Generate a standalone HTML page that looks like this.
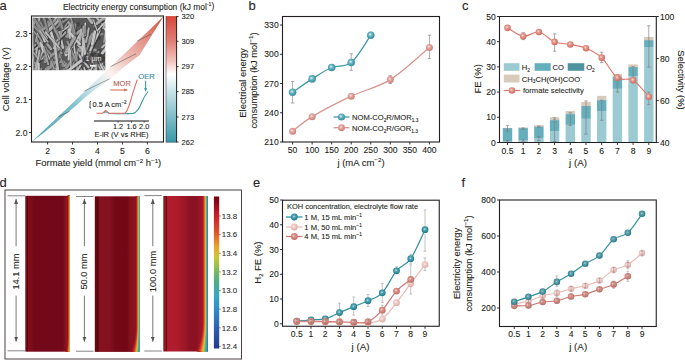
<!DOCTYPE html>
<html><head><meta charset="utf-8"><style>
html,body{margin:0;padding:0;background:#fff;width:685px;height:360px;overflow:hidden}
svg{display:block;font-family:"Liberation Sans", sans-serif}
text{stroke:#231f20;stroke-width:0.1px}
</style></head><body>
<svg width="685" height="360" viewBox="0 0 685 360">
<rect width="685" height="360" fill="#fff"/>

<defs>
 <radialGradient id="gT" cx="0.45" cy="0.42" r="0.6">
  <stop offset="0" stop-color="#d5e7ea"/><stop offset="0.3" stop-color="#55a6b3"/><stop offset="0.75" stop-color="#2b8797"/><stop offset="1" stop-color="#257888"/>
 </radialGradient>
 <radialGradient id="gTb" cx="0.42" cy="0.4" r="0.62">
  <stop offset="0" stop-color="#eef6f7"/><stop offset="0.35" stop-color="#6db7c3"/><stop offset="0.8" stop-color="#3a97a6"/><stop offset="1" stop-color="#5a8e96"/>
 </radialGradient>
 <radialGradient id="gP" cx="0.42" cy="0.4" r="0.6">
  <stop offset="0" stop-color="#f4e6e4"/><stop offset="0.35" stop-color="#e3aaa4"/><stop offset="0.8" stop-color="#d58c85"/><stop offset="1" stop-color="#cb7d76"/>
 </radialGradient>
 <radialGradient id="gPL" cx="0.42" cy="0.4" r="0.6">
  <stop offset="0" stop-color="#faf0ef"/><stop offset="0.35" stop-color="#f0cdc9"/><stop offset="0.8" stop-color="#e8b7b1"/><stop offset="1" stop-color="#e0a8a2"/>
 </radialGradient>
 <radialGradient id="gPD" cx="0.42" cy="0.4" r="0.6">
  <stop offset="0" stop-color="#f1dcda"/><stop offset="0.35" stop-color="#d99189"/><stop offset="0.8" stop-color="#cc776f"/><stop offset="1" stop-color="#c06b63"/>
 </radialGradient>
 <radialGradient id="gS" cx="0.42" cy="0.4" r="0.6">
  <stop offset="0" stop-color="#f3e3e0"/><stop offset="0.35" stop-color="#e39a90"/><stop offset="0.8" stop-color="#d7776b"/><stop offset="1" stop-color="#cf6a5e"/>
 </radialGradient>
 <linearGradient id="cbA" x1="0" y1="0" x2="0" y2="1">
  <stop offset="0" stop-color="#d8473a"/><stop offset="0.2" stop-color="#e27f75"/><stop offset="0.36" stop-color="#f2c6c0"/>
  <stop offset="0.46" stop-color="#ffffff"/><stop offset="0.56" stop-color="#d6ebee"/><stop offset="0.76" stop-color="#8cc5ce"/><stop offset="1" stop-color="#3896a7"/>
 </linearGradient>
 <linearGradient id="ribbon" gradientUnits="userSpaceOnUse" x1="31.5" y1="142" x2="163.5" y2="16.5">
  <stop offset="0" stop-color="#4aa2b1"/><stop offset="0.3" stop-color="#80c2cc"/><stop offset="0.47" stop-color="#d2e9ed"/>
  <stop offset="0.57" stop-color="#fbf4f2"/><stop offset="0.69" stop-color="#efc2bb"/><stop offset="0.86" stop-color="#e08a7e"/><stop offset="1" stop-color="#d4493b"/>
 </linearGradient>
 <linearGradient id="cbD" x1="0" y1="0" x2="0" y2="1">
  <stop offset="0" stop-color="#6e0012"/><stop offset="0.12" stop-color="#c41e2a"/><stop offset="0.24" stop-color="#e0562a"/>
  <stop offset="0.33" stop-color="#e9a52c"/><stop offset="0.4" stop-color="#c8c83c"/><stop offset="0.48" stop-color="#86bc58"/>
  <stop offset="0.56" stop-color="#4eac88"/><stop offset="0.66" stop-color="#36a6c6"/><stop offset="0.76" stop-color="#2f86cc"/>
  <stop offset="0.88" stop-color="#2a5cb0"/><stop offset="1" stop-color="#233a8c"/>
 </linearGradient>
 <linearGradient id="edge1" x1="0" y1="0" x2="1" y2="0">
  <stop offset="0" stop-color="#8a1020" stop-opacity="0"/><stop offset="0.35" stop-color="#a81822"/><stop offset="0.6" stop-color="#d83a22"/><stop offset="0.75" stop-color="#e88a28"/><stop offset="0.87" stop-color="#c8c43c"/><stop offset="1" stop-color="#6aa860"/>
 </linearGradient>
 <linearGradient id="edge2" x1="0" y1="0" x2="1" y2="0">
  <stop offset="0" stop-color="#8a1020" stop-opacity="0"/><stop offset="0.3" stop-color="#a01a24"/><stop offset="0.5" stop-color="#d8402a"/><stop offset="0.64" stop-color="#eaa030"/>
  <stop offset="0.74" stop-color="#c8c83c"/><stop offset="0.83" stop-color="#6ab868"/><stop offset="0.92" stop-color="#38a8b8"/><stop offset="1" stop-color="#3284c4"/>
 </linearGradient>
 <linearGradient id="edge3" x1="0" y1="0" x2="1" y2="0">
  <stop offset="0" stop-color="#a01a24" stop-opacity="0"/><stop offset="0.2" stop-color="#b81e28"/><stop offset="0.4" stop-color="#e0582a"/><stop offset="0.52" stop-color="#eaa030"/>
  <stop offset="0.63" stop-color="#cfc83c"/><stop offset="0.74" stop-color="#72b860"/><stop offset="0.84" stop-color="#3aaab0"/><stop offset="0.93" stop-color="#2f8ccc"/><stop offset="1" stop-color="#2a58a8"/>
 </linearGradient>
<linearGradient id="hm1" gradientUnits="userSpaceOnUse" x1="25.3" y1="0" x2="69.8" y2="0"><stop offset="0.0000" stop-color="#7a0c18"/><stop offset="0.0360" stop-color="#7a0c18"/><stop offset="0.0427" stop-color="#5a0610"/><stop offset="0.0607" stop-color="#5a0610"/><stop offset="0.0697" stop-color="#820e1a"/><stop offset="0.1506" stop-color="#7c0c18"/><stop offset="0.1955" stop-color="#72081a"/><stop offset="0.8472" stop-color="#72081a"/><stop offset="0.8921" stop-color="#861020"/><stop offset="0.9371" stop-color="#9a1622"/><stop offset="1.0000" stop-color="#a01822"/></linearGradient>
<linearGradient id="hm2" gradientUnits="userSpaceOnUse" x1="94.8" y1="0" x2="139.6" y2="0"><stop offset="0.0000" stop-color="#6a0812"/><stop offset="0.0536" stop-color="#6a0812"/><stop offset="0.0625" stop-color="#560610"/><stop offset="0.0781" stop-color="#560610"/><stop offset="0.0893" stop-color="#861220"/><stop offset="0.3393" stop-color="#84111f"/><stop offset="0.4509" stop-color="#740916"/><stop offset="0.7188" stop-color="#720815"/><stop offset="0.7969" stop-color="#86121f"/><stop offset="0.8527" stop-color="#86121f"/><stop offset="1.0000" stop-color="#9a1a24"/></linearGradient>
<linearGradient id="hm3" gradientUnits="userSpaceOnUse" x1="163.3" y1="0" x2="207.8" y2="0"><stop offset="0.0000" stop-color="#5a2a30"/><stop offset="0.0225" stop-color="#7a1420"/><stop offset="0.0337" stop-color="#a01828"/><stop offset="0.0562" stop-color="#a01828"/><stop offset="0.0652" stop-color="#5a0a14"/><stop offset="0.0809" stop-color="#5a0a14"/><stop offset="0.0921" stop-color="#b21c2c"/><stop offset="0.2854" stop-color="#b01c2c"/><stop offset="0.5101" stop-color="#981626"/><stop offset="0.6000" stop-color="#8a1222"/><stop offset="0.7573" stop-color="#8c1222"/><stop offset="0.8247" stop-color="#9a1626"/><stop offset="1.0000" stop-color="#b01e2a"/></linearGradient>
 <marker id="ah" viewBox="0 0 6 6" refX="6" refY="3" markerWidth="5" markerHeight="5" orient="auto-start-reverse" markerUnits="userSpaceOnUse">
  <path d="M0,0.6 L6,3 L0,5.4 Z" fill="#555"/>
 </marker>
 <marker id="ahR" viewBox="0 0 6 6" refX="5" refY="3" markerWidth="4" markerHeight="4" orient="auto" markerUnits="userSpaceOnUse">
  <path d="M0,0.6 L6,3 L0,5.4 Z" fill="#dd6e5e"/>
 </marker>
 <marker id="ahT" viewBox="0 0 6 6" refX="5" refY="3" markerWidth="4" markerHeight="4" orient="auto" markerUnits="userSpaceOnUse">
  <path d="M0,0.6 L6,3 L0,5.4 Z" fill="#3a9aaa"/>
 </marker>
</defs>

<text x="-0.5" y="9.9" font-size="13" text-anchor="start" fill="#2b2324" stroke="#2b2324">a</text>
<text x="248.5" y="10" font-size="13" text-anchor="start" fill="#2b2324" stroke="#2b2324">b</text>
<text x="462" y="9.8" font-size="13" text-anchor="start" fill="#2b2324" stroke="#2b2324">c</text>
<text x="-0.5" y="186.6" font-size="13" text-anchor="start" fill="#2b2324" stroke="#2b2324">d</text>
<text x="253" y="186.8" font-size="13" text-anchor="start" fill="#2b2324" stroke="#2b2324">e</text>
<text x="461.5" y="186.8" font-size="13" text-anchor="start" fill="#2b2324" stroke="#2b2324">f</text>
<svg x="32.6" y="17.8" width="72.7" height="52.5" overflow="hidden">
<defs><filter id="semb" x="-10%" y="-10%" width="120%" height="120%"><feGaussianBlur stdDeviation="0.65"/></filter></defs>
<g filter="url(#semb)">
<rect x="-2" y="-2" width="76.7" height="56.5" fill="#585858"/>
<ellipse cx="32.74" cy="30.03" rx="4.27" ry="2.16" fill="#8a8a8a" opacity="0.8"/>
<ellipse cx="64.55" cy="8.2" rx="3.91" ry="2.19" fill="#8a8a8a" opacity="0.8"/>
<ellipse cx="59.65" cy="2.55" rx="2.41" ry="1.23" fill="#a5a5a5" opacity="0.8"/>
<ellipse cx="47.12" cy="32.13" rx="2.69" ry="2.13" fill="#a5a5a5" opacity="0.8"/>
<ellipse cx="45.63" cy="6.29" rx="1.55" ry="2.32" fill="#3c3c3c" opacity="0.8"/>
<ellipse cx="-0.18" cy="48.89" rx="3.3" ry="2.95" fill="#555555" opacity="0.8"/>
<ellipse cx="31.8" cy="46.7" rx="3.06" ry="2.6" fill="#9a9a9a" opacity="0.8"/>
<ellipse cx="-2.64" cy="2.01" rx="3.46" ry="2.02" fill="#8a8a8a" opacity="0.8"/>
<ellipse cx="75.66" cy="46.57" rx="3.62" ry="1.79" fill="#4a4a4a" opacity="0.8"/>
<ellipse cx="37.52" cy="-1.24" rx="3.19" ry="1.27" fill="#3c3c3c" opacity="0.8"/>
<ellipse cx="63.88" cy="19.8" rx="4.37" ry="3.12" fill="#3c3c3c" opacity="0.8"/>
<ellipse cx="13.87" cy="51.7" rx="1.66" ry="1.94" fill="#a5a5a5" opacity="0.8"/>
<ellipse cx="28.4" cy="1.31" rx="3.39" ry="2.95" fill="#555555" opacity="0.8"/>
<ellipse cx="23.61" cy="15.36" rx="1.55" ry="2.03" fill="#3c3c3c" opacity="0.8"/>
<ellipse cx="7.63" cy="38.71" rx="1.53" ry="2.16" fill="#9a9a9a" opacity="0.8"/>
<ellipse cx="11.04" cy="30" rx="2.84" ry="1.48" fill="#a5a5a5" opacity="0.8"/>
<ellipse cx="57.79" cy="21.73" rx="2.65" ry="1.99" fill="#4a4a4a" opacity="0.8"/>
<ellipse cx="-2.96" cy="48" rx="4.42" ry="2.48" fill="#3c3c3c" opacity="0.8"/>
<ellipse cx="13.65" cy="20.26" rx="4.06" ry="2.6" fill="#3c3c3c" opacity="0.8"/>
<ellipse cx="0.33" cy="5.64" rx="2.82" ry="1.02" fill="#8a8a8a" opacity="0.8"/>
<ellipse cx="22.99" cy="14.48" rx="1.72" ry="1.23" fill="#8a8a8a" opacity="0.8"/>
<ellipse cx="47.29" cy="-2.08" rx="2.61" ry="2.56" fill="#4a4a4a" opacity="0.8"/>
<ellipse cx="72.77" cy="25.54" rx="3.22" ry="3.17" fill="#4a4a4a" opacity="0.8"/>
<ellipse cx="46.55" cy="15.34" rx="2.19" ry="2.53" fill="#a5a5a5" opacity="0.8"/>
<ellipse cx="11.99" cy="40.63" rx="4.32" ry="1.49" fill="#9a9a9a" opacity="0.8"/>
<ellipse cx="66.69" cy="32.61" rx="2.76" ry="1.26" fill="#3c3c3c" opacity="0.8"/>
<ellipse cx="37.48" cy="12.06" rx="3.72" ry="1.98" fill="#9a9a9a" opacity="0.8"/>
<ellipse cx="62.07" cy="32.19" rx="2.38" ry="1.44" fill="#a5a5a5" opacity="0.8"/>
<ellipse cx="74.2" cy="4.46" rx="2.94" ry="2.63" fill="#8a8a8a" opacity="0.8"/>
<ellipse cx="45.53" cy="13.53" rx="4.25" ry="1.51" fill="#3c3c3c" opacity="0.8"/>
<ellipse cx="2.46" cy="21.27" rx="2.25" ry="1.12" fill="#555555" opacity="0.8"/>
<ellipse cx="26.13" cy="30.76" rx="1.89" ry="1.91" fill="#9a9a9a" opacity="0.8"/>
<ellipse cx="74.46" cy="35.76" rx="3.57" ry="2.46" fill="#4a4a4a" opacity="0.8"/>
<ellipse cx="43.6" cy="51.49" rx="2.92" ry="1.89" fill="#555555" opacity="0.8"/>
<ellipse cx="73.06" cy="-1.75" rx="3.41" ry="2.21" fill="#a5a5a5" opacity="0.8"/>
<ellipse cx="21.57" cy="5.06" rx="1.72" ry="2.13" fill="#555555" opacity="0.8"/>
<ellipse cx="55.22" cy="50.11" rx="3.71" ry="2.76" fill="#555555" opacity="0.8"/>
<ellipse cx="24.79" cy="37.42" rx="4.2" ry="3.18" fill="#9a9a9a" opacity="0.8"/>
<ellipse cx="71.59" cy="-1.21" rx="3" ry="1.04" fill="#a5a5a5" opacity="0.8"/>
<ellipse cx="27.2" cy="31.38" rx="3.33" ry="1.2" fill="#a5a5a5" opacity="0.8"/>
<ellipse cx="6.13" cy="12.17" rx="2.75" ry="1.83" fill="#a5a5a5" opacity="0.8"/>
<ellipse cx="51.84" cy="24.01" rx="2.89" ry="2.35" fill="#8a8a8a" opacity="0.8"/>
<ellipse cx="56.27" cy="-1.24" rx="3.3" ry="2.2" fill="#4a4a4a" opacity="0.8"/>
<ellipse cx="72.63" cy="3.66" rx="3.84" ry="2.65" fill="#9a9a9a" opacity="0.8"/>
<ellipse cx="17.21" cy="-2.33" rx="2.4" ry="2.7" fill="#4a4a4a" opacity="0.8"/>
<ellipse cx="37.95" cy="41.47" rx="2.53" ry="3.33" fill="#9a9a9a" opacity="0.8"/>
<ellipse cx="67.45" cy="16.29" rx="3.5" ry="1.5" fill="#9a9a9a" opacity="0.8"/>
<ellipse cx="60.49" cy="41.52" rx="2.1" ry="1.54" fill="#4a4a4a" opacity="0.8"/>
<ellipse cx="43.07" cy="15.67" rx="1.91" ry="2.24" fill="#3c3c3c" opacity="0.8"/>
<ellipse cx="53.19" cy="53.05" rx="2.33" ry="1.42" fill="#9a9a9a" opacity="0.8"/>
<ellipse cx="34.24" cy="51.62" rx="3.99" ry="1.96" fill="#8a8a8a" opacity="0.8"/>
<ellipse cx="36.02" cy="15.61" rx="4.02" ry="3.46" fill="#9a9a9a" opacity="0.8"/>
<ellipse cx="22.31" cy="45.89" rx="2.33" ry="2.52" fill="#a5a5a5" opacity="0.8"/>
<ellipse cx="52.98" cy="30.66" rx="2.43" ry="2.98" fill="#3c3c3c" opacity="0.8"/>
<ellipse cx="47.64" cy="20.91" rx="2.07" ry="2.92" fill="#555555" opacity="0.8"/>
<ellipse cx="15.76" cy="5.31" rx="1.64" ry="2.57" fill="#9a9a9a" opacity="0.8"/>
<ellipse cx="5.61" cy="28.59" rx="3.42" ry="1.92" fill="#3c3c3c" opacity="0.8"/>
<ellipse cx="51.07" cy="8.76" rx="2.93" ry="1.45" fill="#3c3c3c" opacity="0.8"/>
<ellipse cx="56.65" cy="28.56" rx="1.61" ry="1.57" fill="#555555" opacity="0.8"/>
<ellipse cx="39.64" cy="52.86" rx="3" ry="3.49" fill="#4a4a4a" opacity="0.8"/>
<ellipse cx="28.09" cy="43.72" rx="4.22" ry="1.22" fill="#a5a5a5" opacity="0.8"/>
<ellipse cx="27.65" cy="23.58" rx="2.09" ry="3.22" fill="#3c3c3c" opacity="0.8"/>
<ellipse cx="26.77" cy="30.56" rx="4.14" ry="2.99" fill="#555555" opacity="0.8"/>
<ellipse cx="33.63" cy="35.43" rx="2.11" ry="2.8" fill="#a5a5a5" opacity="0.8"/>
<ellipse cx="70.01" cy="4.29" rx="2.23" ry="1.98" fill="#3c3c3c" opacity="0.8"/>
<ellipse cx="74.21" cy="28.68" rx="3.87" ry="1.8" fill="#a5a5a5" opacity="0.8"/>
<ellipse cx="64.61" cy="17.56" rx="1.75" ry="2.1" fill="#8a8a8a" opacity="0.8"/>
<ellipse cx="30.29" cy="13.24" rx="4.26" ry="1.55" fill="#3c3c3c" opacity="0.8"/>
<ellipse cx="30.89" cy="-0.93" rx="3.1" ry="2.72" fill="#4a4a4a" opacity="0.8"/>
<ellipse cx="34.17" cy="55.99" rx="4.2" ry="2.3" fill="#a5a5a5" opacity="0.8"/>
<ellipse cx="51.46" cy="52.8" rx="2.98" ry="3.37" fill="#3c3c3c" opacity="0.8"/>
<ellipse cx="56.87" cy="22.93" rx="3.18" ry="3.08" fill="#8a8a8a" opacity="0.8"/>
<ellipse cx="47.47" cy="27.84" rx="4.03" ry="2.4" fill="#555555" opacity="0.8"/>
<ellipse cx="50.03" cy="53.33" rx="4.11" ry="2.52" fill="#555555" opacity="0.8"/>
<ellipse cx="64.21" cy="54.14" rx="3.07" ry="2.43" fill="#4a4a4a" opacity="0.8"/>
<ellipse cx="29.48" cy="3.74" rx="1.51" ry="1.94" fill="#8a8a8a" opacity="0.8"/>
<ellipse cx="73.58" cy="27.45" rx="2.7" ry="3" fill="#8a8a8a" opacity="0.8"/>
<ellipse cx="6.63" cy="2.5" rx="2" ry="3.33" fill="#9a9a9a" opacity="0.8"/>
<ellipse cx="29.69" cy="53.46" rx="4.27" ry="1.67" fill="#9a9a9a" opacity="0.8"/>
<ellipse cx="35.95" cy="17.04" rx="4.2" ry="3.34" fill="#9a9a9a" opacity="0.8"/>
<ellipse cx="38.47" cy="3.41" rx="2.76" ry="1.07" fill="#555555" opacity="0.8"/>
<ellipse cx="7.23" cy="42.98" rx="1.57" ry="1.49" fill="#4a4a4a" opacity="0.8"/>
<ellipse cx="-2.07" cy="13.76" rx="3.67" ry="1.61" fill="#9a9a9a" opacity="0.8"/>
<ellipse cx="5.29" cy="40.12" rx="1.87" ry="2.28" fill="#555555" opacity="0.8"/>
<ellipse cx="53.7" cy="38.38" rx="4.14" ry="1.06" fill="#a5a5a5" opacity="0.8"/>
<ellipse cx="29.66" cy="28.23" rx="1.98" ry="1.51" fill="#a5a5a5" opacity="0.8"/>
<ellipse cx="39.19" cy="9.88" rx="2.15" ry="2.36" fill="#8a8a8a" opacity="0.8"/>
<ellipse cx="64.68" cy="10.73" rx="3.72" ry="3.03" fill="#4a4a4a" opacity="0.8"/>
<ellipse cx="21.95" cy="15.58" rx="4.27" ry="1.55" fill="#4a4a4a" opacity="0.8"/>
<ellipse cx="67.12" cy="4.9" rx="2.22" ry="2.82" fill="#555555" opacity="0.8"/>
<line x1="21.77" y1="31.09" x2="33.58" y2="14.83" stroke="#333333" stroke-width="2.121033327612624" stroke-linecap="round" opacity="0.55"/>
<line x1="21.07" y1="30.39" x2="32.88" y2="14.13" stroke="#c6c6c6" stroke-width="1.521033327612624" stroke-linecap="round"/>
<line x1="45.91" y1="-14.01" x2="59.97" y2="5.72" stroke="#333333" stroke-width="3.349405221478025" stroke-linecap="round" opacity="0.55"/>
<line x1="45.21" y1="-14.71" x2="59.27" y2="5.02" stroke="#b0b0b0" stroke-width="2.749405221478025" stroke-linecap="round"/>
<line x1="46.6" y1="27.94" x2="62.61" y2="43.97" stroke="#333333" stroke-width="3.0845499643153205" stroke-linecap="round" opacity="0.55"/>
<line x1="45.9" y1="27.24" x2="61.91" y2="43.27" stroke="#bcbcbc" stroke-width="2.4845499643153204" stroke-linecap="round"/>
<line x1="3.79" y1="5.82" x2="3.66" y2="-11.55" stroke="#333333" stroke-width="2.034487714643134" stroke-linecap="round" opacity="0.55"/>
<line x1="3.09" y1="5.12" x2="2.96" y2="-12.25" stroke="#a2a2a2" stroke-width="1.434487714643134" stroke-linecap="round"/>
<line x1="0.59" y1="-3.01" x2="8.35" y2="14.83" stroke="#333333" stroke-width="2.7276460297339566" stroke-linecap="round" opacity="0.55"/>
<line x1="-0.11" y1="-3.71" x2="7.65" y2="14.13" stroke="#a2a2a2" stroke-width="2.1276460297339566" stroke-linecap="round"/>
<line x1="70.29" y1="30.29" x2="80.86" y2="19.18" stroke="#333333" stroke-width="2.6244594020196224" stroke-linecap="round" opacity="0.55"/>
<line x1="69.59" y1="29.59" x2="80.16" y2="18.48" stroke="#bcbcbc" stroke-width="2.0244594020196223" stroke-linecap="round"/>
<line x1="11.37" y1="23.81" x2="13.75" y2="14.1" stroke="#333333" stroke-width="2.452729361700427" stroke-linecap="round" opacity="0.55"/>
<line x1="10.67" y1="23.11" x2="13.05" y2="13.4" stroke="#969696" stroke-width="1.852729361700427" stroke-linecap="round"/>
<line x1="54.77" y1="13.41" x2="60.32" y2="28.68" stroke="#333333" stroke-width="1.8246682563268743" stroke-linecap="round" opacity="0.55"/>
<line x1="54.07" y1="12.71" x2="59.62" y2="27.98" stroke="#b0b0b0" stroke-width="1.2246682563268745" stroke-linecap="round"/>
<line x1="59.01" y1="46.41" x2="66.68" y2="34.59" stroke="#333333" stroke-width="2.759368231188629" stroke-linecap="round" opacity="0.55"/>
<line x1="58.31" y1="45.71" x2="65.98" y2="33.89" stroke="#8c8c8c" stroke-width="2.159368231188629" stroke-linecap="round"/>
<line x1="41.44" y1="19.8" x2="47.35" y2="13.93" stroke="#333333" stroke-width="2.9887636635063646" stroke-linecap="round" opacity="0.55"/>
<line x1="40.74" y1="19.1" x2="46.65" y2="13.23" stroke="#a2a2a2" stroke-width="2.3887636635063645" stroke-linecap="round"/>
<line x1="59.87" y1="30.14" x2="68.02" y2="11.99" stroke="#333333" stroke-width="3.0276316813426463" stroke-linecap="round" opacity="0.55"/>
<line x1="59.17" y1="29.44" x2="67.32" y2="11.29" stroke="#a2a2a2" stroke-width="2.427631681342646" stroke-linecap="round"/>
<line x1="25.91" y1="34.72" x2="32.47" y2="48.62" stroke="#333333" stroke-width="1.8169513689046877" stroke-linecap="round" opacity="0.55"/>
<line x1="25.21" y1="34.02" x2="31.77" y2="47.92" stroke="#969696" stroke-width="1.2169513689046878" stroke-linecap="round"/>
<line x1="73.93" y1="41.78" x2="83.87" y2="64.97" stroke="#333333" stroke-width="2.2781861941554022" stroke-linecap="round" opacity="0.55"/>
<line x1="73.23" y1="41.08" x2="83.17" y2="64.27" stroke="#a2a2a2" stroke-width="1.6781861941554022" stroke-linecap="round"/>
<line x1="50.03" y1="44.7" x2="51.53" y2="18.75" stroke="#333333" stroke-width="2.8276244188930835" stroke-linecap="round" opacity="0.55"/>
<line x1="49.33" y1="44" x2="50.83" y2="18.05" stroke="#c6c6c6" stroke-width="2.2276244188930834" stroke-linecap="round"/>
<line x1="4.05" y1="24.4" x2="5.68" y2="16.4" stroke="#333333" stroke-width="2.1792497307852923" stroke-linecap="round" opacity="0.55"/>
<line x1="3.35" y1="23.7" x2="4.98" y2="15.7" stroke="#bcbcbc" stroke-width="1.5792497307852922" stroke-linecap="round"/>
<line x1="27.07" y1="-5.59" x2="30.6" y2="1.55" stroke="#333333" stroke-width="2.201419928976198" stroke-linecap="round" opacity="0.55"/>
<line x1="26.37" y1="-6.29" x2="29.9" y2="0.85" stroke="#969696" stroke-width="1.6014199289761981" stroke-linecap="round"/>
<line x1="34" y1="38.3" x2="48.91" y2="17.12" stroke="#333333" stroke-width="2.820820158056545" stroke-linecap="round" opacity="0.55"/>
<line x1="33.3" y1="37.6" x2="48.21" y2="16.42" stroke="#c6c6c6" stroke-width="2.220820158056545" stroke-linecap="round"/>
<line x1="-8.7" y1="40.87" x2="11.06" y2="26.21" stroke="#333333" stroke-width="2.0558905170667465" stroke-linecap="round" opacity="0.55"/>
<line x1="-9.4" y1="40.17" x2="10.36" y2="25.51" stroke="#bcbcbc" stroke-width="1.4558905170667467" stroke-linecap="round"/>
<line x1="77.52" y1="57.61" x2="76.79" y2="43.03" stroke="#333333" stroke-width="2.5912529995525344" stroke-linecap="round" opacity="0.55"/>
<line x1="76.82" y1="56.91" x2="76.09" y2="42.33" stroke="#969696" stroke-width="1.9912529995525343" stroke-linecap="round"/>
<line x1="35.65" y1="24.8" x2="43.29" y2="42.31" stroke="#333333" stroke-width="2.6970307937797946" stroke-linecap="round" opacity="0.55"/>
<line x1="34.95" y1="24.1" x2="42.59" y2="41.61" stroke="#969696" stroke-width="2.0970307937797945" stroke-linecap="round"/>
<line x1="45.63" y1="36.34" x2="56.58" y2="50.27" stroke="#333333" stroke-width="2.8127881545613698" stroke-linecap="round" opacity="0.55"/>
<line x1="44.93" y1="35.64" x2="55.88" y2="49.57" stroke="#bcbcbc" stroke-width="2.2127881545613697" stroke-linecap="round"/>
<line x1="57.16" y1="23.12" x2="60.53" y2="16.98" stroke="#333333" stroke-width="3.382031115568472" stroke-linecap="round" opacity="0.55"/>
<line x1="56.46" y1="22.42" x2="59.83" y2="16.28" stroke="#969696" stroke-width="2.782031115568472" stroke-linecap="round"/>
<line x1="-5.29" y1="42.46" x2="7.18" y2="64.66" stroke="#333333" stroke-width="2.1899332767180675" stroke-linecap="round" opacity="0.55"/>
<line x1="-5.99" y1="41.76" x2="6.48" y2="63.96" stroke="#8c8c8c" stroke-width="1.5899332767180674" stroke-linecap="round"/>
<line x1="-6.57" y1="55.47" x2="12.71" y2="39.25" stroke="#333333" stroke-width="2.1922943902447614" stroke-linecap="round" opacity="0.55"/>
<line x1="-7.27" y1="54.77" x2="12.01" y2="38.55" stroke="#c6c6c6" stroke-width="1.5922943902447615" stroke-linecap="round"/>
<line x1="3.94" y1="38.75" x2="5.03" y2="31.8" stroke="#333333" stroke-width="2.6449595350590243" stroke-linecap="round" opacity="0.55"/>
<line x1="3.24" y1="38.05" x2="4.33" y2="31.1" stroke="#b0b0b0" stroke-width="2.044959535059024" stroke-linecap="round"/>
<line x1="20.46" y1="-4.09" x2="30.7" y2="11.66" stroke="#333333" stroke-width="2.891210119957111" stroke-linecap="round" opacity="0.55"/>
<line x1="19.76" y1="-4.79" x2="30" y2="10.96" stroke="#969696" stroke-width="2.291210119957111" stroke-linecap="round"/>
<line x1="57.01" y1="38.81" x2="64.64" y2="19.59" stroke="#333333" stroke-width="2.1814576444757443" stroke-linecap="round" opacity="0.55"/>
<line x1="56.31" y1="38.11" x2="63.94" y2="18.89" stroke="#b0b0b0" stroke-width="1.5814576444757442" stroke-linecap="round"/>
<line x1="38.49" y1="20.41" x2="36.41" y2="9.11" stroke="#333333" stroke-width="2.775693734705911" stroke-linecap="round" opacity="0.55"/>
<line x1="37.79" y1="19.71" x2="35.71" y2="8.41" stroke="#c6c6c6" stroke-width="2.175693734705911" stroke-linecap="round"/>
<line x1="43.36" y1="38.01" x2="42.07" y2="28.3" stroke="#333333" stroke-width="2.1983376562851555" stroke-linecap="round" opacity="0.55"/>
<line x1="42.66" y1="37.31" x2="41.37" y2="27.6" stroke="#c6c6c6" stroke-width="1.5983376562851555" stroke-linecap="round"/>
<line x1="70.88" y1="46.36" x2="74.19" y2="57.29" stroke="#333333" stroke-width="2.4803087595332123" stroke-linecap="round" opacity="0.55"/>
<line x1="70.18" y1="45.66" x2="73.49" y2="56.59" stroke="#8c8c8c" stroke-width="1.8803087595332122" stroke-linecap="round"/>
<line x1="-9.48" y1="-0.43" x2="5.35" y2="18.77" stroke="#333333" stroke-width="2.057371563322885" stroke-linecap="round" opacity="0.55"/>
<line x1="-10.18" y1="-1.13" x2="4.65" y2="18.07" stroke="#a2a2a2" stroke-width="1.457371563322885" stroke-linecap="round"/>
<line x1="47.37" y1="25.32" x2="49.32" y2="12.59" stroke="#333333" stroke-width="2.9917229072256384" stroke-linecap="round" opacity="0.55"/>
<line x1="46.67" y1="24.62" x2="48.62" y2="11.89" stroke="#b0b0b0" stroke-width="2.3917229072256383" stroke-linecap="round"/>
<line x1="58.26" y1="33.41" x2="67.52" y2="14.14" stroke="#333333" stroke-width="2.5109418085141217" stroke-linecap="round" opacity="0.55"/>
<line x1="57.56" y1="32.71" x2="66.82" y2="13.44" stroke="#c6c6c6" stroke-width="1.9109418085141219" stroke-linecap="round"/>
<line x1="9.31" y1="36.73" x2="23.96" y2="57.95" stroke="#333333" stroke-width="2.320624974857398" stroke-linecap="round" opacity="0.55"/>
<line x1="8.61" y1="36.03" x2="23.26" y2="57.25" stroke="#8c8c8c" stroke-width="1.7206249748573978" stroke-linecap="round"/>
<line x1="54.21" y1="41.15" x2="64.22" y2="55.65" stroke="#333333" stroke-width="2.539225994052627" stroke-linecap="round" opacity="0.55"/>
<line x1="53.51" y1="40.45" x2="63.52" y2="54.95" stroke="#969696" stroke-width="1.9392259940526269" stroke-linecap="round"/>
<line x1="1.3" y1="9.95" x2="1.45" y2="-9.76" stroke="#333333" stroke-width="2.2781930783211735" stroke-linecap="round" opacity="0.55"/>
<line x1="0.6" y1="9.25" x2="0.75" y2="-10.46" stroke="#b0b0b0" stroke-width="1.6781930783211736" stroke-linecap="round"/>
<line x1="-0.15" y1="14.46" x2="2.48" y2="2.67" stroke="#333333" stroke-width="2.9599954576986884" stroke-linecap="round" opacity="0.55"/>
<line x1="-0.85" y1="13.76" x2="1.78" y2="1.97" stroke="#c6c6c6" stroke-width="2.3599954576986883" stroke-linecap="round"/>
<line x1="19" y1="46.86" x2="26.15" y2="57.17" stroke="#333333" stroke-width="3.2500433339760564" stroke-linecap="round" opacity="0.55"/>
<line x1="18.3" y1="46.16" x2="25.45" y2="56.47" stroke="#969696" stroke-width="2.6500433339760563" stroke-linecap="round"/>
<line x1="50.42" y1="42.94" x2="59.55" y2="20.46" stroke="#333333" stroke-width="2.5007883254314804" stroke-linecap="round" opacity="0.55"/>
<line x1="49.72" y1="42.24" x2="58.85" y2="19.76" stroke="#969696" stroke-width="1.9007883254314806" stroke-linecap="round"/>
<line x1="29.64" y1="16.19" x2="37.67" y2="1.97" stroke="#333333" stroke-width="1.9348593874179625" stroke-linecap="round" opacity="0.55"/>
<line x1="28.94" y1="15.49" x2="36.97" y2="1.27" stroke="#969696" stroke-width="1.3348593874179624" stroke-linecap="round"/>
<line x1="-1.65" y1="48.97" x2="-4.85" y2="28.44" stroke="#333333" stroke-width="2.3891959046969746" stroke-linecap="round" opacity="0.55"/>
<line x1="-2.35" y1="48.27" x2="-5.55" y2="27.74" stroke="#bcbcbc" stroke-width="1.7891959046969748" stroke-linecap="round"/>
<line x1="38.86" y1="59.5" x2="42.43" y2="38.63" stroke="#333333" stroke-width="3.2094371897543974" stroke-linecap="round" opacity="0.55"/>
<line x1="38.16" y1="58.8" x2="41.73" y2="37.93" stroke="#969696" stroke-width="2.6094371897543973" stroke-linecap="round"/>
<line x1="61.69" y1="3.47" x2="65.72" y2="14.69" stroke="#333333" stroke-width="1.8357443648720277" stroke-linecap="round" opacity="0.55"/>
<line x1="60.99" y1="2.77" x2="65.02" y2="13.99" stroke="#bcbcbc" stroke-width="1.2357443648720277" stroke-linecap="round"/>
<line x1="-2.87" y1="32.59" x2="3.15" y2="27.9" stroke="#333333" stroke-width="2.9792958748985" stroke-linecap="round" opacity="0.55"/>
<line x1="-3.57" y1="31.89" x2="2.45" y2="27.2" stroke="#969696" stroke-width="2.3792958748985" stroke-linecap="round"/>
<line x1="-3.86" y1="28.38" x2="7.66" y2="43.46" stroke="#333333" stroke-width="2.192720385935343" stroke-linecap="round" opacity="0.55"/>
<line x1="-4.56" y1="27.68" x2="6.96" y2="42.76" stroke="#a2a2a2" stroke-width="1.592720385935343" stroke-linecap="round"/>
<line x1="33.14" y1="48" x2="39.4" y2="59.4" stroke="#333333" stroke-width="3.0916408415826733" stroke-linecap="round" opacity="0.55"/>
<line x1="32.44" y1="47.3" x2="38.7" y2="58.7" stroke="#969696" stroke-width="2.491640841582673" stroke-linecap="round"/>
<line x1="53.02" y1="36.8" x2="50.69" y2="16.77" stroke="#333333" stroke-width="3.263962948873528" stroke-linecap="round" opacity="0.55"/>
<line x1="52.32" y1="36.1" x2="49.99" y2="16.07" stroke="#bcbcbc" stroke-width="2.663962948873528" stroke-linecap="round"/>
<line x1="57.28" y1="52.23" x2="60.82" y2="65.32" stroke="#333333" stroke-width="1.9428059087830416" stroke-linecap="round" opacity="0.55"/>
<line x1="56.58" y1="51.53" x2="60.12" y2="64.62" stroke="#bcbcbc" stroke-width="1.3428059087830415" stroke-linecap="round"/>
<line x1="77.32" y1="47.27" x2="74.9" y2="25.36" stroke="#333333" stroke-width="2.474577473682903" stroke-linecap="round" opacity="0.55"/>
<line x1="76.62" y1="46.57" x2="74.2" y2="24.66" stroke="#bcbcbc" stroke-width="1.874577473682903" stroke-linecap="round"/>
<line x1="67.01" y1="2.52" x2="78.03" y2="18.82" stroke="#333333" stroke-width="2.3134073281808463" stroke-linecap="round" opacity="0.55"/>
<line x1="66.31" y1="1.82" x2="77.33" y2="18.12" stroke="#bcbcbc" stroke-width="1.7134073281808464" stroke-linecap="round"/>
<line x1="25.97" y1="17.35" x2="35.67" y2="10.01" stroke="#333333" stroke-width="1.9837003386437813" stroke-linecap="round" opacity="0.55"/>
<line x1="25.27" y1="16.65" x2="34.97" y2="9.31" stroke="#c6c6c6" stroke-width="1.3837003386437814" stroke-linecap="round"/>
<line x1="6.4" y1="57.27" x2="9.44" y2="51.7" stroke="#333333" stroke-width="2.569725035539805" stroke-linecap="round" opacity="0.55"/>
<line x1="5.7" y1="56.57" x2="8.74" y2="51" stroke="#b0b0b0" stroke-width="1.9697250355398048" stroke-linecap="round"/>
<line x1="16.41" y1="-0.03" x2="26.12" y2="15.12" stroke="#333333" stroke-width="2.5550599526737456" stroke-linecap="round" opacity="0.55"/>
<line x1="15.71" y1="-0.73" x2="25.42" y2="14.42" stroke="#8c8c8c" stroke-width="1.9550599526737455" stroke-linecap="round"/>
<line x1="10.09" y1="-3.2" x2="17.38" y2="16.65" stroke="#333333" stroke-width="2.298768098673295" stroke-linecap="round" opacity="0.55"/>
<line x1="9.39" y1="-3.9" x2="16.68" y2="15.95" stroke="#8c8c8c" stroke-width="1.698768098673295" stroke-linecap="round"/>
<line x1="70.44" y1="36.01" x2="79.1" y2="24.94" stroke="#333333" stroke-width="3.3291144888648385" stroke-linecap="round" opacity="0.55"/>
<line x1="69.74" y1="35.31" x2="78.4" y2="24.24" stroke="#c6c6c6" stroke-width="2.7291144888648384" stroke-linecap="round"/>
<line x1="40.72" y1="60.37" x2="41.73" y2="53.45" stroke="#333333" stroke-width="3.3160322682177097" stroke-linecap="round" opacity="0.55"/>
<line x1="40.02" y1="59.67" x2="41.03" y2="52.75" stroke="#bcbcbc" stroke-width="2.7160322682177096" stroke-linecap="round"/>
<line x1="76.01" y1="49.53" x2="79.31" y2="43.18" stroke="#333333" stroke-width="3.2788111715032335" stroke-linecap="round" opacity="0.55"/>
<line x1="75.31" y1="48.83" x2="78.61" y2="42.48" stroke="#b0b0b0" stroke-width="2.6788111715032334" stroke-linecap="round"/>
<line x1="68.04" y1="60.69" x2="69.95" y2="46.39" stroke="#333333" stroke-width="3.199725462881212" stroke-linecap="round" opacity="0.55"/>
<line x1="67.34" y1="59.99" x2="69.25" y2="45.69" stroke="#bcbcbc" stroke-width="2.599725462881212" stroke-linecap="round"/>
<line x1="2.67" y1="9.47" x2="13.4" y2="21.77" stroke="#333333" stroke-width="2.8191464870175715" stroke-linecap="round" opacity="0.55"/>
<line x1="1.97" y1="8.77" x2="12.7" y2="21.07" stroke="#8c8c8c" stroke-width="2.2191464870175714" stroke-linecap="round"/>
<line x1="15.49" y1="27.08" x2="19.21" y2="31.82" stroke="#333333" stroke-width="3.1142689098862064" stroke-linecap="round" opacity="0.55"/>
<line x1="14.79" y1="26.38" x2="18.51" y2="31.12" stroke="#a2a2a2" stroke-width="2.5142689098862063" stroke-linecap="round"/>
<line x1="62.22" y1="-3.14" x2="66.94" y2="3.25" stroke="#333333" stroke-width="2.568163379355572" stroke-linecap="round" opacity="0.55"/>
<line x1="61.52" y1="-3.84" x2="66.24" y2="2.55" stroke="#bcbcbc" stroke-width="1.968163379355572" stroke-linecap="round"/>
<line x1="1.75" y1="46.55" x2="1.73" y2="40.17" stroke="#333333" stroke-width="2.100420229637271" stroke-linecap="round" opacity="0.55"/>
<line x1="1.05" y1="45.85" x2="1.03" y2="39.47" stroke="#a2a2a2" stroke-width="1.500420229637271" stroke-linecap="round"/>
<line x1="66.39" y1="6.29" x2="78.86" y2="-5.06" stroke="#333333" stroke-width="2.6410764395497215" stroke-linecap="round" opacity="0.55"/>
<line x1="65.69" y1="5.59" x2="78.16" y2="-5.76" stroke="#a2a2a2" stroke-width="2.0410764395497214" stroke-linecap="round"/>
<line x1="71.25" y1="49.74" x2="79.07" y2="64.98" stroke="#333333" stroke-width="3.395629053917245" stroke-linecap="round" opacity="0.55"/>
<line x1="70.55" y1="49.04" x2="78.37" y2="64.28" stroke="#c6c6c6" stroke-width="2.795629053917245" stroke-linecap="round"/>
<line x1="54.06" y1="24.88" x2="56.91" y2="11.29" stroke="#333333" stroke-width="2.5388141244248907" stroke-linecap="round" opacity="0.55"/>
<line x1="53.36" y1="24.18" x2="56.21" y2="10.59" stroke="#b0b0b0" stroke-width="1.9388141244248909" stroke-linecap="round"/>
<line x1="47.1" y1="-8.83" x2="53.47" y2="-0.17" stroke="#333333" stroke-width="2.7025854481855" stroke-linecap="round" opacity="0.55"/>
<line x1="46.4" y1="-9.53" x2="52.77" y2="-0.87" stroke="#bcbcbc" stroke-width="2.1025854481854998" stroke-linecap="round"/>
<line x1="54.33" y1="60.77" x2="66.28" y2="39.92" stroke="#333333" stroke-width="2.0434112345027167" stroke-linecap="round" opacity="0.55"/>
<line x1="53.63" y1="60.07" x2="65.58" y2="39.22" stroke="#c6c6c6" stroke-width="1.4434112345027168" stroke-linecap="round"/>
<line x1="23.72" y1="23.52" x2="29.6" y2="36.05" stroke="#333333" stroke-width="2.8667020927301134" stroke-linecap="round" opacity="0.55"/>
<line x1="23.02" y1="22.82" x2="28.9" y2="35.35" stroke="#969696" stroke-width="2.2667020927301134" stroke-linecap="round"/>
<line x1="8.38" y1="13.95" x2="13.1" y2="24.41" stroke="#333333" stroke-width="2.551710351989174" stroke-linecap="round" opacity="0.55"/>
<line x1="7.68" y1="13.25" x2="12.4" y2="23.71" stroke="#c6c6c6" stroke-width="1.951710351989174" stroke-linecap="round"/>
<line x1="21.59" y1="44.72" x2="24.19" y2="52.17" stroke="#333333" stroke-width="2.8843126014517835" stroke-linecap="round" opacity="0.55"/>
<line x1="20.89" y1="44.02" x2="23.49" y2="51.47" stroke="#c6c6c6" stroke-width="2.2843126014517834" stroke-linecap="round"/>
<line x1="5.08" y1="-1.53" x2="14.79" y2="16.05" stroke="#333333" stroke-width="1.9606914428065179" stroke-linecap="round" opacity="0.55"/>
<line x1="4.38" y1="-2.23" x2="14.09" y2="15.35" stroke="#b0b0b0" stroke-width="1.3606914428065178" stroke-linecap="round"/>
<line x1="4.45" y1="-8.89" x2="11.66" y2="14.43" stroke="#333333" stroke-width="2.483220326029024" stroke-linecap="round" opacity="0.55"/>
<line x1="3.75" y1="-9.59" x2="10.96" y2="13.73" stroke="#8c8c8c" stroke-width="1.883220326029024" stroke-linecap="round"/>
<line x1="1.95" y1="1.7" x2="11.09" y2="14.41" stroke="#333333" stroke-width="3.2741194058911858" stroke-linecap="round" opacity="0.55"/>
<line x1="1.25" y1="1" x2="10.39" y2="13.71" stroke="#8c8c8c" stroke-width="2.6741194058911857" stroke-linecap="round"/>
<line x1="-1.27" y1="31.3" x2="-6.71" y2="10.19" stroke="#333333" stroke-width="2.856367075270971" stroke-linecap="round" opacity="0.55"/>
<line x1="-1.97" y1="30.6" x2="-7.41" y2="9.49" stroke="#8c8c8c" stroke-width="2.256367075270971" stroke-linecap="round"/>
<line x1="36.7" y1="4.89" x2="42.78" y2="18.41" stroke="#333333" stroke-width="2.6915250107957407" stroke-linecap="round" opacity="0.55"/>
<line x1="36" y1="4.19" x2="42.08" y2="17.71" stroke="#a2a2a2" stroke-width="2.0915250107957406" stroke-linecap="round"/>
<line x1="35.46" y1="49.77" x2="40.53" y2="42.14" stroke="#333333" stroke-width="3.026420325503804" stroke-linecap="round" opacity="0.55"/>
<line x1="34.76" y1="49.07" x2="39.83" y2="41.44" stroke="#969696" stroke-width="2.4264203255038037" stroke-linecap="round"/>
<line x1="39.41" y1="27.57" x2="43.19" y2="7.66" stroke="#333333" stroke-width="3.3788452378929583" stroke-linecap="round" opacity="0.55"/>
<line x1="38.71" y1="26.87" x2="42.49" y2="6.96" stroke="#8c8c8c" stroke-width="2.7788452378929582" stroke-linecap="round"/>
<line x1="77.68" y1="43.32" x2="81.44" y2="37.97" stroke="#333333" stroke-width="2.855108549569835" stroke-linecap="round" opacity="0.55"/>
<line x1="76.98" y1="42.62" x2="80.74" y2="37.27" stroke="#b0b0b0" stroke-width="2.255108549569835" stroke-linecap="round"/>
<line x1="4.63" y1="22.21" x2="7.94" y2="29.31" stroke="#333333" stroke-width="3.1960172457837923" stroke-linecap="round" opacity="0.55"/>
<line x1="3.93" y1="21.51" x2="7.24" y2="28.61" stroke="#969696" stroke-width="2.5960172457837922" stroke-linecap="round"/>
<line x1="24.8" y1="10.46" x2="43.32" y2="-4.94" stroke="#333333" stroke-width="2.6694809621113476" stroke-linecap="round" opacity="0.55"/>
<line x1="24.1" y1="9.76" x2="42.62" y2="-5.64" stroke="#8c8c8c" stroke-width="2.0694809621113475" stroke-linecap="round"/>
<line x1="-7.16" y1="44.67" x2="7.37" y2="63.69" stroke="#333333" stroke-width="2.335525746363473" stroke-linecap="round" opacity="0.55"/>
<line x1="-7.86" y1="43.97" x2="6.67" y2="62.99" stroke="#a2a2a2" stroke-width="1.735525746363473" stroke-linecap="round"/>
<line x1="1.51" y1="44.28" x2="8.74" y2="52.33" stroke="#333333" stroke-width="2.7177350325953906" stroke-linecap="round" opacity="0.55"/>
<line x1="0.81" y1="43.58" x2="8.04" y2="51.63" stroke="#a2a2a2" stroke-width="2.1177350325953905" stroke-linecap="round"/>
<line x1="9.15" y1="25.7" x2="11.79" y2="34.93" stroke="#333333" stroke-width="3.3792097917782313" stroke-linecap="round" opacity="0.55"/>
<line x1="8.45" y1="25" x2="11.09" y2="34.23" stroke="#c6c6c6" stroke-width="2.7792097917782312" stroke-linecap="round"/>
<line x1="2.83" y1="52.25" x2="10.07" y2="35.44" stroke="#333333" stroke-width="2.8245190000989098" stroke-linecap="round" opacity="0.55"/>
<line x1="2.13" y1="51.55" x2="9.37" y2="34.74" stroke="#b0b0b0" stroke-width="2.2245190000989097" stroke-linecap="round"/>
<line x1="6.03" y1="17.89" x2="10.32" y2="25.07" stroke="#333333" stroke-width="2.4491744062148135" stroke-linecap="round" opacity="0.55"/>
<line x1="5.33" y1="17.19" x2="9.62" y2="24.37" stroke="#969696" stroke-width="1.8491744062148134" stroke-linecap="round"/>
<line x1="38.05" y1="21.22" x2="39.71" y2="2.46" stroke="#333333" stroke-width="1.860581096668589" stroke-linecap="round" opacity="0.55"/>
<line x1="37.35" y1="20.52" x2="39.01" y2="1.76" stroke="#c6c6c6" stroke-width="1.260581096668589" stroke-linecap="round"/>
<line x1="60.3" y1="27.22" x2="62.97" y2="14.59" stroke="#333333" stroke-width="3.2347163632369362" stroke-linecap="round" opacity="0.55"/>
<line x1="59.6" y1="26.52" x2="62.27" y2="13.89" stroke="#c6c6c6" stroke-width="2.634716363236936" stroke-linecap="round"/>
<line x1="37.63" y1="15.45" x2="47.78" y2="26.86" stroke="#333333" stroke-width="3.248691187561121" stroke-linecap="round" opacity="0.55"/>
<line x1="36.93" y1="14.75" x2="47.08" y2="26.16" stroke="#c6c6c6" stroke-width="2.6486911875611208" stroke-linecap="round"/>
<line x1="31.21" y1="30.98" x2="27.73" y2="14.83" stroke="#333333" stroke-width="2.6400018515667516" stroke-linecap="round" opacity="0.55"/>
<line x1="30.51" y1="30.28" x2="27.03" y2="14.13" stroke="#bcbcbc" stroke-width="2.0400018515667515" stroke-linecap="round"/>
<line x1="23.99" y1="2.79" x2="36.87" y2="-10.25" stroke="#333333" stroke-width="2.4931528178692677" stroke-linecap="round" opacity="0.55"/>
<line x1="23.29" y1="2.09" x2="36.17" y2="-10.95" stroke="#bcbcbc" stroke-width="1.8931528178692676" stroke-linecap="round"/>
<line x1="43.49" y1="40.46" x2="47.49" y2="46.68" stroke="#333333" stroke-width="1.9991114001796482" stroke-linecap="round" opacity="0.55"/>
<line x1="42.79" y1="39.76" x2="46.79" y2="45.98" stroke="#bcbcbc" stroke-width="1.3991114001796483" stroke-linecap="round"/>
<line x1="12.78" y1="54.63" x2="17.81" y2="48.27" stroke="#333333" stroke-width="3.2559146909612133" stroke-linecap="round" opacity="0.55"/>
<line x1="12.08" y1="53.93" x2="17.11" y2="47.57" stroke="#8c8c8c" stroke-width="2.6559146909612132" stroke-linecap="round"/>
<line x1="17.18" y1="8.83" x2="24.29" y2="31.99" stroke="#333333" stroke-width="3.3463570341046838" stroke-linecap="round" opacity="0.55"/>
<line x1="16.48" y1="8.13" x2="23.59" y2="31.29" stroke="#c6c6c6" stroke-width="2.7463570341046837" stroke-linecap="round"/>
<line x1="24.38" y1="39.55" x2="27.71" y2="20.85" stroke="#333333" stroke-width="2.4745146103716293" stroke-linecap="round" opacity="0.55"/>
<line x1="23.68" y1="38.85" x2="27.01" y2="20.15" stroke="#b0b0b0" stroke-width="1.8745146103716293" stroke-linecap="round"/>
<line x1="65.01" y1="6.42" x2="77.97" y2="-4.2" stroke="#333333" stroke-width="3.3215598637245405" stroke-linecap="round" opacity="0.55"/>
<line x1="64.31" y1="5.72" x2="77.27" y2="-4.9" stroke="#b0b0b0" stroke-width="2.7215598637245404" stroke-linecap="round"/>
<line x1="17.32" y1="35.08" x2="22.42" y2="48.99" stroke="#333333" stroke-width="2.520060966198996" stroke-linecap="round" opacity="0.55"/>
<line x1="16.62" y1="34.38" x2="21.72" y2="48.29" stroke="#8c8c8c" stroke-width="1.920060966198996" stroke-linecap="round"/>
<line x1="27.69" y1="21.09" x2="29.25" y2="14.65" stroke="#333333" stroke-width="3.237619475290598" stroke-linecap="round" opacity="0.55"/>
<line x1="26.99" y1="20.39" x2="28.55" y2="13.95" stroke="#969696" stroke-width="2.637619475290598" stroke-linecap="round"/>
<line x1="16.77" y1="14.43" x2="27.77" y2="-6.42" stroke="#333333" stroke-width="2.124309376422743" stroke-linecap="round" opacity="0.55"/>
<line x1="16.07" y1="13.73" x2="27.07" y2="-7.12" stroke="#c6c6c6" stroke-width="1.5243093764227431" stroke-linecap="round"/>
<line x1="65.7" y1="13.09" x2="76.16" y2="1.72" stroke="#333333" stroke-width="2.075016816084124" stroke-linecap="round" opacity="0.55"/>
<line x1="65" y1="12.39" x2="75.46" y2="1.02" stroke="#c6c6c6" stroke-width="1.475016816084124" stroke-linecap="round"/>
<line x1="77.41" y1="19.48" x2="81.21" y2="-3.82" stroke="#333333" stroke-width="1.8800035434974935" stroke-linecap="round" opacity="0.55"/>
<line x1="76.71" y1="18.78" x2="80.51" y2="-4.52" stroke="#b0b0b0" stroke-width="1.2800035434974937" stroke-linecap="round"/>
<line x1="15.59" y1="52.91" x2="25.85" y2="42.79" stroke="#333333" stroke-width="3.2063781992778755" stroke-linecap="round" opacity="0.55"/>
<line x1="14.89" y1="52.21" x2="25.15" y2="42.09" stroke="#969696" stroke-width="2.6063781992778754" stroke-linecap="round"/>
<line x1="52.29" y1="50.66" x2="55.42" y2="60.65" stroke="#333333" stroke-width="2.2914610638696864" stroke-linecap="round" opacity="0.55"/>
<line x1="51.59" y1="49.96" x2="54.72" y2="59.95" stroke="#c6c6c6" stroke-width="1.6914610638696865" stroke-linecap="round"/>
<line x1="53.45" y1="18.14" x2="53.44" y2="6.23" stroke="#333333" stroke-width="2.237277798325012" stroke-linecap="round" opacity="0.55"/>
<line x1="52.75" y1="17.44" x2="52.74" y2="5.53" stroke="#c6c6c6" stroke-width="1.6372777983250122" stroke-linecap="round"/>
<line x1="42.23" y1="13.81" x2="36.32" y2="-9.36" stroke="#333333" stroke-width="2.088901909196776" stroke-linecap="round" opacity="0.55"/>
<line x1="41.53" y1="13.11" x2="35.62" y2="-10.06" stroke="#a2a2a2" stroke-width="1.488901909196776" stroke-linecap="round"/>
<line x1="13.04" y1="31.01" x2="23.42" y2="41.58" stroke="#333333" stroke-width="2.6452767857767587" stroke-linecap="round" opacity="0.55"/>
<line x1="12.34" y1="30.31" x2="22.72" y2="40.88" stroke="#8c8c8c" stroke-width="2.0452767857767586" stroke-linecap="round"/>
<line x1="71.97" y1="2.39" x2="71.69" y2="-12.08" stroke="#333333" stroke-width="2.7097003827949204" stroke-linecap="round" opacity="0.55"/>
<line x1="71.27" y1="1.69" x2="70.99" y2="-12.78" stroke="#a2a2a2" stroke-width="2.1097003827949203" stroke-linecap="round"/>
<line x1="15.57" y1="36.03" x2="22.3" y2="51.6" stroke="#333333" stroke-width="2.0981758569522566" stroke-linecap="round" opacity="0.55"/>
<line x1="14.87" y1="35.33" x2="21.6" y2="50.9" stroke="#a2a2a2" stroke-width="1.4981758569522565" stroke-linecap="round"/>
<line x1="79.55" y1="3.67" x2="77.76" y2="-9.9" stroke="#333333" stroke-width="3.286821972031097" stroke-linecap="round" opacity="0.55"/>
<line x1="78.85" y1="2.97" x2="77.06" y2="-10.6" stroke="#bcbcbc" stroke-width="2.686821972031097" stroke-linecap="round"/>
<line x1="-2.62" y1="4.57" x2="2.26" y2="-6.85" stroke="#333333" stroke-width="2.573589763438647" stroke-linecap="round" opacity="0.55"/>
<line x1="-3.32" y1="3.87" x2="1.56" y2="-7.55" stroke="#b0b0b0" stroke-width="1.973589763438647" stroke-linecap="round"/>
<line x1="34.39" y1="34.6" x2="42.85" y2="20.54" stroke="#333333" stroke-width="3.3224483553371518" stroke-linecap="round" opacity="0.55"/>
<line x1="33.69" y1="33.9" x2="42.15" y2="19.84" stroke="#a2a2a2" stroke-width="2.7224483553371517" stroke-linecap="round"/>
<line x1="40.62" y1="36.28" x2="49.74" y2="53.38" stroke="#333333" stroke-width="2.676516053355088" stroke-linecap="round" opacity="0.55"/>
<line x1="39.92" y1="35.58" x2="49.04" y2="52.68" stroke="#969696" stroke-width="2.0765160533550877" stroke-linecap="round"/>
<line x1="58.98" y1="41.59" x2="64.14" y2="50.65" stroke="#333333" stroke-width="2.7281449509060436" stroke-linecap="round" opacity="0.55"/>
<line x1="58.28" y1="40.89" x2="63.44" y2="49.95" stroke="#bcbcbc" stroke-width="2.1281449509060435" stroke-linecap="round"/>
<line x1="10.92" y1="12.35" x2="22.9" y2="3.38" stroke="#333333" stroke-width="3.2090370795731205" stroke-linecap="round" opacity="0.55"/>
<line x1="10.22" y1="11.65" x2="22.2" y2="2.68" stroke="#969696" stroke-width="2.6090370795731204" stroke-linecap="round"/>
<line x1="7.35" y1="3.27" x2="7.86" y2="-11.56" stroke="#333333" stroke-width="2.220712838848497" stroke-linecap="round" opacity="0.55"/>
<line x1="6.65" y1="2.57" x2="7.16" y2="-12.26" stroke="#b0b0b0" stroke-width="1.620712838848497" stroke-linecap="round"/>
<line x1="1.11" y1="64.59" x2="0.62" y2="42.76" stroke="#333333" stroke-width="2.180760844030647" stroke-linecap="round" opacity="0.55"/>
<line x1="0.41" y1="63.89" x2="-0.08" y2="42.06" stroke="#a2a2a2" stroke-width="1.5807608440306469" stroke-linecap="round"/>
<line x1="1.02" y1="32.59" x2="-2.44" y2="12.11" stroke="#333333" stroke-width="3.0491322548952513" stroke-linecap="round" opacity="0.55"/>
<line x1="0.32" y1="31.89" x2="-3.14" y2="11.41" stroke="#8c8c8c" stroke-width="2.449132254895251" stroke-linecap="round"/>
<line x1="36.71" y1="42.42" x2="37.41" y2="31.48" stroke="#333333" stroke-width="2.594993301518761" stroke-linecap="round" opacity="0.55"/>
<line x1="36.01" y1="41.72" x2="36.71" y2="30.78" stroke="#c6c6c6" stroke-width="1.9949933015187613" stroke-linecap="round"/>
<line x1="62.28" y1="39.93" x2="68.38" y2="51.74" stroke="#333333" stroke-width="2.1461530411692213" stroke-linecap="round" opacity="0.55"/>
<line x1="61.58" y1="39.23" x2="67.68" y2="51.04" stroke="#b0b0b0" stroke-width="1.5461530411692215" stroke-linecap="round"/>
<line x1="3.63" y1="54.06" x2="7.6" y2="33.55" stroke="#333333" stroke-width="2.634697517692341" stroke-linecap="round" opacity="0.55"/>
<line x1="2.93" y1="53.36" x2="6.9" y2="32.85" stroke="#b0b0b0" stroke-width="2.034697517692341" stroke-linecap="round"/>
<line x1="-6.83" y1="29.71" x2="-3.2" y2="12.97" stroke="#333333" stroke-width="2.5550285509161825" stroke-linecap="round" opacity="0.55"/>
<line x1="-7.53" y1="29.01" x2="-3.9" y2="12.27" stroke="#b0b0b0" stroke-width="1.9550285509161824" stroke-linecap="round"/>
<line x1="79.54" y1="47.73" x2="75.04" y2="30.05" stroke="#333333" stroke-width="2.2731221944476245" stroke-linecap="round" opacity="0.55"/>
<line x1="78.84" y1="47.03" x2="74.34" y2="29.35" stroke="#b0b0b0" stroke-width="1.6731221944476244" stroke-linecap="round"/>
<line x1="43.1" y1="16.88" x2="40.12" y2="3.94" stroke="#333333" stroke-width="2.3392734640409114" stroke-linecap="round" opacity="0.55"/>
<line x1="42.4" y1="16.18" x2="39.42" y2="3.24" stroke="#8c8c8c" stroke-width="1.7392734640409113" stroke-linecap="round"/>
<line x1="15.92" y1="15.15" x2="10.6" y2="-4.9" stroke="#333333" stroke-width="2.7078457319102687" stroke-linecap="round" opacity="0.55"/>
<line x1="15.22" y1="14.45" x2="9.9" y2="-5.6" stroke="#8c8c8c" stroke-width="2.1078457319102686" stroke-linecap="round"/>
<line x1="71.29" y1="10.97" x2="75.18" y2="1.47" stroke="#333333" stroke-width="2.4059649083774706" stroke-linecap="round" opacity="0.55"/>
<line x1="70.59" y1="10.27" x2="74.48" y2="0.77" stroke="#b0b0b0" stroke-width="1.8059649083774705" stroke-linecap="round"/>
<line x1="10.59" y1="13.33" x2="15.43" y2="21.24" stroke="#333333" stroke-width="2.12583103657033" stroke-linecap="round" opacity="0.55"/>
<line x1="9.89" y1="12.63" x2="14.73" y2="20.54" stroke="#a2a2a2" stroke-width="1.52583103657033" stroke-linecap="round"/>
<line x1="45.13" y1="53.34" x2="45.23" y2="34.81" stroke="#333333" stroke-width="2.0905593974915093" stroke-linecap="round" opacity="0.55"/>
<line x1="44.43" y1="52.64" x2="44.53" y2="34.11" stroke="#bcbcbc" stroke-width="1.4905593974915092" stroke-linecap="round"/>
<line x1="8.22" y1="14.21" x2="15.96" y2="24.97" stroke="#333333" stroke-width="2.2392306878682278" stroke-linecap="round" opacity="0.55"/>
<line x1="7.52" y1="13.51" x2="15.26" y2="24.27" stroke="#b0b0b0" stroke-width="1.639230687868228" stroke-linecap="round"/>
<line x1="39.14" y1="52.39" x2="38.47" y2="33.42" stroke="#333333" stroke-width="2.148063960893417" stroke-linecap="round" opacity="0.55"/>
<line x1="38.44" y1="51.69" x2="37.77" y2="32.72" stroke="#b0b0b0" stroke-width="1.548063960893417" stroke-linecap="round"/>
<line x1="18.21" y1="12.55" x2="32.58" y2="-3.19" stroke="#333333" stroke-width="2.957526145450237" stroke-linecap="round" opacity="0.55"/>
<line x1="17.51" y1="11.85" x2="31.88" y2="-3.89" stroke="#b0b0b0" stroke-width="2.3575261454502368" stroke-linecap="round"/>
<line x1="-7.12" y1="4.36" x2="-0.01" y2="26.91" stroke="#333333" stroke-width="2.320399573520124" stroke-linecap="round" opacity="0.55"/>
<line x1="-7.82" y1="3.66" x2="-0.71" y2="26.21" stroke="#8c8c8c" stroke-width="1.720399573520124" stroke-linecap="round"/>
<line x1="51.55" y1="19.22" x2="51.61" y2="9.47" stroke="#333333" stroke-width="2.622237069551848" stroke-linecap="round" opacity="0.55"/>
<line x1="50.85" y1="18.52" x2="50.91" y2="8.77" stroke="#a2a2a2" stroke-width="2.022237069551848" stroke-linecap="round"/>
<line x1="-4.87" y1="11.27" x2="-0.33" y2="18.72" stroke="#333333" stroke-width="2.930570513583969" stroke-linecap="round" opacity="0.55"/>
<line x1="-5.57" y1="10.57" x2="-1.03" y2="18.02" stroke="#969696" stroke-width="2.330570513583969" stroke-linecap="round"/>
<line x1="13.87" y1="15.55" x2="28.88" y2="32.57" stroke="#333333" stroke-width="2.655957433137502" stroke-linecap="round" opacity="0.55"/>
<line x1="13.17" y1="14.85" x2="28.18" y2="31.87" stroke="#bcbcbc" stroke-width="2.055957433137502" stroke-linecap="round"/>
<line x1="24.81" y1="23.85" x2="33.49" y2="15.79" stroke="#333333" stroke-width="2.351930565968849" stroke-linecap="round" opacity="0.55"/>
<line x1="24.11" y1="23.15" x2="32.79" y2="15.09" stroke="#a2a2a2" stroke-width="1.7519305659688489" stroke-linecap="round"/>
<line x1="6.6" y1="52.95" x2="6.65" y2="46.72" stroke="#333333" stroke-width="3.01861839265348" stroke-linecap="round" opacity="0.55"/>
<line x1="5.9" y1="52.25" x2="5.95" y2="46.02" stroke="#c6c6c6" stroke-width="2.41861839265348" stroke-linecap="round"/>
<line x1="12.75" y1="44.97" x2="27.32" y2="31.59" stroke="#333333" stroke-width="2.866550113226201" stroke-linecap="round" opacity="0.55"/>
<line x1="12.05" y1="44.27" x2="26.62" y2="30.89" stroke="#969696" stroke-width="2.266550113226201" stroke-linecap="round"/>
<line x1="11.41" y1="29.69" x2="17.87" y2="41.94" stroke="#333333" stroke-width="1.896170097469232" stroke-linecap="round" opacity="0.55"/>
<line x1="10.71" y1="28.99" x2="17.17" y2="41.24" stroke="#bcbcbc" stroke-width="1.296170097469232" stroke-linecap="round"/>
<line x1="72.03" y1="25.32" x2="75.59" y2="1.07" stroke="#333333" stroke-width="2.123068314495351" stroke-linecap="round" opacity="0.55"/>
<line x1="71.33" y1="24.62" x2="74.89" y2="0.37" stroke="#a2a2a2" stroke-width="1.523068314495351" stroke-linecap="round"/>
<line x1="26.04" y1="52.98" x2="22.98" y2="29.02" stroke="#333333" stroke-width="3.086710430989184" stroke-linecap="round" opacity="0.55"/>
<line x1="25.34" y1="52.28" x2="22.28" y2="28.32" stroke="#bcbcbc" stroke-width="2.486710430989184" stroke-linecap="round"/>
<line x1="44.56" y1="43.5" x2="43.89" y2="37.08" stroke="#333333" stroke-width="2.426194418911224" stroke-linecap="round" opacity="0.55"/>
<line x1="43.86" y1="42.8" x2="43.19" y2="36.38" stroke="#969696" stroke-width="1.826194418911224" stroke-linecap="round"/>
<line x1="66.94" y1="43.73" x2="77.11" y2="64.29" stroke="#333333" stroke-width="2.279986399041882" stroke-linecap="round" opacity="0.55"/>
<line x1="66.24" y1="43.03" x2="76.41" y2="63.59" stroke="#c6c6c6" stroke-width="1.6799863990418817" stroke-linecap="round"/>
<line x1="17.26" y1="0.4" x2="27.48" y2="21.93" stroke="#333333" stroke-width="2.7051459586299837" stroke-linecap="round" opacity="0.55"/>
<line x1="16.56" y1="-0.3" x2="26.78" y2="21.23" stroke="#969696" stroke-width="2.1051459586299837" stroke-linecap="round"/>
<line x1="63.6" y1="58.76" x2="64.38" y2="45.96" stroke="#333333" stroke-width="3.2363157077148634" stroke-linecap="round" opacity="0.55"/>
<line x1="62.9" y1="58.06" x2="63.68" y2="45.26" stroke="#b0b0b0" stroke-width="2.6363157077148633" stroke-linecap="round"/>
<line x1="38.65" y1="63.67" x2="48.7" y2="48.24" stroke="#333333" stroke-width="2.4575293375589093" stroke-linecap="round" opacity="0.55"/>
<line x1="37.95" y1="62.97" x2="48" y2="47.54" stroke="#bcbcbc" stroke-width="1.8575293375589093" stroke-linecap="round"/>
<line x1="-0.23" y1="11.8" x2="0.44" y2="-13.52" stroke="#333333" stroke-width="2.415957534767815" stroke-linecap="round" opacity="0.55"/>
<line x1="-0.93" y1="11.1" x2="-0.26" y2="-14.22" stroke="#a2a2a2" stroke-width="1.815957534767815" stroke-linecap="round"/>
<line x1="52.75" y1="15.65" x2="52.84" y2="9.23" stroke="#333333" stroke-width="2.768662598043131" stroke-linecap="round" opacity="0.55"/>
<line x1="52.05" y1="14.95" x2="52.14" y2="8.53" stroke="#969696" stroke-width="2.168662598043131" stroke-linecap="round"/>
<line x1="11.93" y1="30.76" x2="16.31" y2="47.06" stroke="#333333" stroke-width="2.4302475691258567" stroke-linecap="round" opacity="0.55"/>
<line x1="11.23" y1="30.06" x2="15.61" y2="46.36" stroke="#a2a2a2" stroke-width="1.8302475691258566" stroke-linecap="round"/>
<line x1="32.31" y1="56.76" x2="50.08" y2="43" stroke="#333333" stroke-width="3.214641521347746" stroke-linecap="round" opacity="0.55"/>
<line x1="31.61" y1="56.06" x2="49.38" y2="42.3" stroke="#c6c6c6" stroke-width="2.614641521347746" stroke-linecap="round"/>
<line x1="72.98" y1="11.79" x2="81.12" y2="20.97" stroke="#333333" stroke-width="2.945511498546199" stroke-linecap="round" opacity="0.55"/>
<line x1="72.28" y1="11.09" x2="80.42" y2="20.27" stroke="#c6c6c6" stroke-width="2.345511498546199" stroke-linecap="round"/>
<line x1="26.23" y1="-1.09" x2="30.53" y2="10.82" stroke="#333333" stroke-width="2.902815836556606" stroke-linecap="round" opacity="0.55"/>
<line x1="25.53" y1="-1.79" x2="29.83" y2="10.12" stroke="#8c8c8c" stroke-width="2.302815836556606" stroke-linecap="round"/>
</g>
<rect x="0" y="0" width="0.8" height="52.5" fill="#c8c8c8"/>
<ellipse cx="61" cy="41" rx="12" ry="6" fill="#2e2e2e" opacity="0.55" filter="url(#semb)"/>
</svg>
<text x="93.5" y="61" font-size="7.2" text-anchor="middle" fill="#ffffff" stroke="#ffffff">1 μm</text>
<line x1="90" y1="65.8" x2="95.6" y2="65.8" stroke="#ffffff" stroke-width="1.4"/>
<polygon points="31.5,142 163.5,16.5 139.4,55.2 122,68.5 110,79.4 95,89.5 85,97.6 76,105.7 65,114.7 55,123.5 45,131.7" fill="url(#ribbon)"/>
<line x1="58.4" y1="116.8" x2="69.5" y2="111.3" stroke="#3a3a3a" stroke-width="0.6" opacity="0.75"/>
<line x1="84.4" y1="91.1" x2="109.4" y2="78.9" stroke="#3a3a3a" stroke-width="0.6" opacity="0.75"/>
<line x1="110.6" y1="66.6" x2="136" y2="53.8" stroke="#3a3a3a" stroke-width="0.6" opacity="0.75"/>
<line x1="137.2" y1="41.1" x2="151.1" y2="34.1" stroke="#3a3a3a" stroke-width="0.6" opacity="0.75"/>
<line x1="94" y1="121" x2="149" y2="121" stroke="#111" stroke-width="1.0"/>
<line x1="118" y1="121" x2="118" y2="122.8" stroke="#231f20" stroke-width="0.7"/>
<line x1="131.5" y1="121" x2="131.5" y2="122.8" stroke="#231f20" stroke-width="0.7"/>
<line x1="144.2" y1="121" x2="144.2" y2="122.8" stroke="#231f20" stroke-width="0.7"/>
<text x="118" y="128.8" font-size="7.3" text-anchor="middle" fill="#231f20" stroke="#231f20">1.2</text>
<text x="131.5" y="128.8" font-size="7.3" text-anchor="middle" fill="#231f20" stroke="#231f20">1.6</text>
<text x="144.2" y="128.8" font-size="7.3" text-anchor="middle" fill="#231f20" stroke="#231f20">2.0</text>
<text x="121.5" y="136.8" font-size="7.5" text-anchor="middle" fill="#231f20" stroke="#231f20">E-iR (V vs RHE)</text>
<path d="M91.2,101.6 L90,101.6 L90,108 L91.2,108" fill="none" stroke="#231f20" stroke-width="0.8"/>
<text x="92.6" y="107.3" font-size="7.5" fill="#231f20">0.5 A cm<tspan font-size="4.6" dy="-3">−2</tspan></text>
<path d="M104,112.6 C106,111.2 107,111.6 109,113.2 C112,113.8 126,113.9 133,113.4 C137,112.8 139,109 141.5,103 C143.5,98 146,94 148,91.5" fill="none" stroke="#3a9aaa" stroke-width="1.1"/>
<path d="M96.5,113.2 L102.5,113.2 C104,112.6 104.6,110.6 105.6,110.6 C106.6,110.6 107,112.8 109,113.2 L124.5,113.2 C127,112.5 128.5,108 130.5,101 C132.5,94 135,86.5 137.2,79.6" fill="none" stroke="#dd6e5e" stroke-width="1.1"/>
<text x="122.1" y="85.9" font-size="7.5" text-anchor="middle" fill="#dd6e5e" stroke="#dd6e5e">MOR</text>
<text x="146.5" y="78.7" font-size="7.7" text-anchor="middle" fill="#3a9aaa" stroke="#3a9aaa">OER</text>
<line x1="110.2" y1="90" x2="127" y2="90" stroke="#dd6e5e" stroke-width="1.1" marker-end="url(#ahR)"/>
<line x1="145.6" y1="80.7" x2="145.6" y2="91" stroke="#3a9aaa" stroke-width="1.1" marker-end="url(#ahT)"/>
<rect x="31.5" y="16" width="132" height="126" fill="none" stroke="#231f20" stroke-width="1.1"/>
<line x1="29" y1="132.5" x2="31.5" y2="132.5" stroke="#231f20" stroke-width="0.9"/>
<text x="27.5" y="135.5" font-size="8.6" text-anchor="end" fill="#231f20" stroke="#231f20">2.0</text>
<line x1="29" y1="99.5" x2="31.5" y2="99.5" stroke="#231f20" stroke-width="0.9"/>
<text x="27.5" y="102.5" font-size="8.6" text-anchor="end" fill="#231f20" stroke="#231f20">2.1</text>
<line x1="29" y1="66.5" x2="31.5" y2="66.5" stroke="#231f20" stroke-width="0.9"/>
<text x="27.5" y="69.5" font-size="8.6" text-anchor="end" fill="#231f20" stroke="#231f20">2.2</text>
<line x1="29" y1="33.5" x2="31.5" y2="33.5" stroke="#231f20" stroke-width="0.9"/>
<text x="27.5" y="36.5" font-size="8.6" text-anchor="end" fill="#231f20" stroke="#231f20">2.3</text>
<line x1="47.6" y1="142" x2="47.6" y2="144.5" stroke="#231f20" stroke-width="0.9"/>
<text x="47.6" y="153.5" font-size="8.6" text-anchor="middle" fill="#231f20" stroke="#231f20">2</text>
<line x1="72.55" y1="142" x2="72.55" y2="144.5" stroke="#231f20" stroke-width="0.9"/>
<text x="72.55" y="153.5" font-size="8.6" text-anchor="middle" fill="#231f20" stroke="#231f20">3</text>
<line x1="97.5" y1="142" x2="97.5" y2="144.5" stroke="#231f20" stroke-width="0.9"/>
<text x="97.5" y="153.5" font-size="8.6" text-anchor="middle" fill="#231f20" stroke="#231f20">4</text>
<line x1="122.45" y1="142" x2="122.45" y2="144.5" stroke="#231f20" stroke-width="0.9"/>
<text x="122.45" y="153.5" font-size="8.6" text-anchor="middle" fill="#231f20" stroke="#231f20">5</text>
<line x1="147.4" y1="142" x2="147.4" y2="144.5" stroke="#231f20" stroke-width="0.9"/>
<text x="147.4" y="153.5" font-size="8.6" text-anchor="middle" fill="#231f20" stroke="#231f20">6</text>
<text x="6.5" y="79.2" font-size="9.4" text-anchor="middle" fill="#231f20" stroke="#231f20" transform="rotate(-90 6.5 79.2)" dominant-baseline="middle">Cell voltage (V)</text>
<text x="35.6" y="166.4" font-size="9.4" fill="#231f20">Formate yield (mmol cm<tspan font-size="6.2" dy="-3.7">−2</tspan><tspan dy="3.7"> h</tspan><tspan font-size="6.2" dy="-3.7">−1</tspan><tspan dy="3.7">)</tspan></text>
<text x="62.9" y="9.5" font-size="8.45" fill="#231f20">Electricity energy consumption (kJ mol<tspan font-size="5.2" dy="-3.3">-1</tspan><tspan dy="3.2">)</tspan></text>
<rect x="166" y="16.1" width="10.6" height="126.3" fill="url(#cbA)"/>
<line x1="166" y1="16.1" x2="166" y2="142.4" stroke="#444" stroke-width="0.6"/>
<line x1="166" y1="142.2" x2="176.6" y2="142.2" stroke="#444" stroke-width="0.5"/>
<line x1="176.6" y1="16.1" x2="176.6" y2="142.4" stroke="#231f20" stroke-width="1"/>
<line x1="176.6" y1="16.6" x2="178.6" y2="16.6" stroke="#231f20" stroke-width="0.9"/>
<text x="181.6" y="19.3" font-size="7.5" text-anchor="start" fill="#231f20" stroke="#231f20">320</text>
<line x1="176.6" y1="41.3" x2="178.6" y2="41.3" stroke="#231f20" stroke-width="0.9"/>
<text x="181.6" y="44" font-size="7.5" text-anchor="start" fill="#231f20" stroke="#231f20">309</text>
<line x1="176.6" y1="66.6" x2="178.6" y2="66.6" stroke="#231f20" stroke-width="0.9"/>
<text x="181.6" y="69.3" font-size="7.5" text-anchor="start" fill="#231f20" stroke="#231f20">297</text>
<line x1="176.6" y1="91.6" x2="178.6" y2="91.6" stroke="#231f20" stroke-width="0.9"/>
<text x="181.6" y="94.3" font-size="7.5" text-anchor="start" fill="#231f20" stroke="#231f20">285</text>
<line x1="176.6" y1="117" x2="178.6" y2="117" stroke="#231f20" stroke-width="0.9"/>
<text x="181.6" y="119.7" font-size="7.5" text-anchor="start" fill="#231f20" stroke="#231f20">273</text>
<line x1="176.6" y1="142" x2="178.6" y2="142" stroke="#231f20" stroke-width="0.9"/>
<text x="181.6" y="144.7" font-size="7.5" text-anchor="start" fill="#231f20" stroke="#231f20">262</text>
<rect x="282.5" y="16.5" width="157" height="125.5" fill="none" stroke="#231f20" stroke-width="1.1"/>
<line x1="280" y1="142" x2="282.5" y2="142" stroke="#231f20" stroke-width="0.9"/>
<text x="278.7" y="145" font-size="8.6" text-anchor="end" fill="#231f20" stroke="#231f20">210</text>
<line x1="280" y1="112.75" x2="282.5" y2="112.75" stroke="#231f20" stroke-width="0.9"/>
<text x="278.7" y="115.75" font-size="8.6" text-anchor="end" fill="#231f20" stroke="#231f20">240</text>
<line x1="280" y1="83.5" x2="282.5" y2="83.5" stroke="#231f20" stroke-width="0.9"/>
<text x="278.7" y="86.5" font-size="8.6" text-anchor="end" fill="#231f20" stroke="#231f20">270</text>
<line x1="280" y1="54.25" x2="282.5" y2="54.25" stroke="#231f20" stroke-width="0.9"/>
<text x="278.7" y="57.25" font-size="8.6" text-anchor="end" fill="#231f20" stroke="#231f20">300</text>
<line x1="280" y1="25" x2="282.5" y2="25" stroke="#231f20" stroke-width="0.9"/>
<text x="278.7" y="28" font-size="8.6" text-anchor="end" fill="#231f20" stroke="#231f20">330</text>
<line x1="292.6" y1="142" x2="292.6" y2="144.5" stroke="#231f20" stroke-width="0.9"/>
<text x="292.6" y="153.3" font-size="8.6" text-anchor="middle" fill="#231f20" stroke="#231f20">50</text>
<line x1="312.15" y1="142" x2="312.15" y2="144.5" stroke="#231f20" stroke-width="0.9"/>
<text x="312.15" y="153.3" font-size="8.6" text-anchor="middle" fill="#231f20" stroke="#231f20">100</text>
<line x1="331.69" y1="142" x2="331.69" y2="144.5" stroke="#231f20" stroke-width="0.9"/>
<text x="331.69" y="153.3" font-size="8.6" text-anchor="middle" fill="#231f20" stroke="#231f20">150</text>
<line x1="351.24" y1="142" x2="351.24" y2="144.5" stroke="#231f20" stroke-width="0.9"/>
<text x="351.24" y="153.3" font-size="8.6" text-anchor="middle" fill="#231f20" stroke="#231f20">200</text>
<line x1="370.78" y1="142" x2="370.78" y2="144.5" stroke="#231f20" stroke-width="0.9"/>
<text x="370.78" y="153.3" font-size="8.6" text-anchor="middle" fill="#231f20" stroke="#231f20">250</text>
<line x1="390.33" y1="142" x2="390.33" y2="144.5" stroke="#231f20" stroke-width="0.9"/>
<text x="390.33" y="153.3" font-size="8.6" text-anchor="middle" fill="#231f20" stroke="#231f20">300</text>
<line x1="409.87" y1="142" x2="409.87" y2="144.5" stroke="#231f20" stroke-width="0.9"/>
<text x="409.87" y="153.3" font-size="8.6" text-anchor="middle" fill="#231f20" stroke="#231f20">350</text>
<line x1="429.42" y1="142" x2="429.42" y2="144.5" stroke="#231f20" stroke-width="0.9"/>
<text x="429.42" y="153.3" font-size="8.6" text-anchor="middle" fill="#231f20" stroke="#231f20">400</text>
<text x="361" y="166" font-size="9.5" text-anchor="middle" fill="#231f20">j (mA cm<tspan font-size="6.2" dy="-3.7">−2</tspan><tspan dy="3.7">)</tspan></text>
<text x="246.3" y="83" font-size="9.4" text-anchor="middle" fill="#231f20" stroke="#231f20" transform="rotate(-90 246.3 83)">Electrical energy</text>
<text x="257.2" y="80.5" font-size="9.4" text-anchor="middle" fill="#231f20" transform="rotate(-90 257.2 80.5)">consumption (kJ mol<tspan font-size="6.2" dy="-3.7">−1</tspan><tspan dy="3.7">)</tspan></text>
<line x1="292.6" y1="81.55" x2="292.6" y2="103" stroke="#808080" stroke-width="0.65"/>
<line x1="290.9" y1="81.55" x2="294.3" y2="81.55" stroke="#808080" stroke-width="0.65"/>
<line x1="290.9" y1="103" x2="294.3" y2="103" stroke="#808080" stroke-width="0.65"/>
<line x1="351.24" y1="53.76" x2="351.24" y2="70.34" stroke="#808080" stroke-width="0.65"/>
<line x1="349.54" y1="53.76" x2="352.94" y2="53.76" stroke="#808080" stroke-width="0.65"/>
<line x1="349.54" y1="70.34" x2="352.94" y2="70.34" stroke="#808080" stroke-width="0.65"/>
<line x1="370.78" y1="32.31" x2="370.78" y2="37.67" stroke="#808080" stroke-width="0.65"/>
<line x1="369.08" y1="32.31" x2="372.48" y2="32.31" stroke="#808080" stroke-width="0.65"/>
<line x1="369.08" y1="37.67" x2="372.48" y2="37.67" stroke="#808080" stroke-width="0.65"/>
<line x1="390.33" y1="75.7" x2="390.33" y2="83.5" stroke="#808080" stroke-width="0.65"/>
<line x1="388.63" y1="75.7" x2="392.03" y2="75.7" stroke="#808080" stroke-width="0.65"/>
<line x1="388.63" y1="83.5" x2="392.03" y2="83.5" stroke="#808080" stroke-width="0.65"/>
<line x1="429.42" y1="35.24" x2="429.42" y2="58.64" stroke="#808080" stroke-width="0.65"/>
<line x1="427.72" y1="35.24" x2="431.12" y2="35.24" stroke="#808080" stroke-width="0.65"/>
<line x1="427.72" y1="58.64" x2="431.12" y2="58.64" stroke="#808080" stroke-width="0.65"/>
<path d="M292.6,131.28 C295.86,128.84 302.37,122.5 312.15,116.65 C321.92,110.8 338.21,102.35 351.24,96.18 C364.26,90 377.3,87.72 390.33,79.6 C403.36,71.47 422.9,52.79 429.42,47.42" fill="none" stroke="#d7968f" stroke-width="1.3" stroke-linejoin="round"/>
<path d="M292.6,92.28 C295.86,90.05 305.63,83.05 312.15,78.92 C318.66,74.79 325.18,70.24 331.69,67.51 C338.21,64.78 344.72,67.92 351.24,62.54 C357.75,57.16 367.52,39.79 370.78,35.24" fill="none" stroke="#3d9aa9" stroke-width="1.3" stroke-linejoin="round"/>
<circle cx="292.6" cy="131.28" r="3.5" fill="url(#gP)"/>
<circle cx="312.15" cy="116.65" r="3.5" fill="url(#gP)"/>
<circle cx="351.24" cy="96.18" r="3.5" fill="url(#gP)"/>
<circle cx="390.33" cy="79.6" r="3.5" fill="url(#gP)"/>
<circle cx="429.42" cy="47.42" r="3.5" fill="url(#gP)"/>
<circle cx="292.6" cy="92.28" r="3.8" fill="url(#gTb)"/>
<circle cx="312.15" cy="78.92" r="3.8" fill="url(#gTb)"/>
<circle cx="331.69" cy="67.51" r="3.8" fill="url(#gTb)"/>
<circle cx="351.24" cy="62.54" r="3.8" fill="url(#gTb)"/>
<circle cx="370.78" cy="35.24" r="3.8" fill="url(#gTb)"/>
<line x1="333.6" y1="117" x2="349.4" y2="117" stroke="#3d9aa9" stroke-width="1.3"/>
<circle cx="341.5" cy="117" r="3.6" fill="url(#gTb)"/>
<line x1="333.6" y1="127.7" x2="349.4" y2="127.7" stroke="#d7968f" stroke-width="1.3"/>
<circle cx="341.5" cy="127.7" r="3.4" fill="url(#gP)"/>
<text x="352" y="120" font-size="7.6" fill="#231f20">NOM-CO<tspan font-size="4.8" dy="1.8">2</tspan><tspan dy="-1.8">R/MOR</tspan><tspan font-size="4.8" dy="1.8">1.3</tspan></text>
<text x="352" y="130.7" font-size="7.6" fill="#231f20">NOM-CO<tspan font-size="4.8" dy="1.8">2</tspan><tspan dy="-1.8">R/GOR</tspan><tspan font-size="4.8" dy="1.8">1.3</tspan></text>
<rect x="502.8" y="141.49" width="9.4" height="1.01" fill="#9ccad3"/>
<rect x="502.8" y="128.89" width="9.4" height="12.6" fill="#65aebb"/>
<rect x="502.8" y="128.14" width="9.4" height="0.76" fill="#4f95a1"/>
<rect x="502.8" y="127.88" width="9.4" height="0.25" fill="#d8cbbb"/>
<rect x="518.5" y="140.48" width="9.4" height="2.02" fill="#9ccad3"/>
<rect x="518.5" y="128.64" width="9.4" height="11.84" fill="#65aebb"/>
<rect x="518.5" y="127.88" width="9.4" height="0.76" fill="#4f95a1"/>
<rect x="518.5" y="127.51" width="9.4" height="0.38" fill="#d8cbbb"/>
<rect x="534.2" y="138.47" width="9.4" height="4.03" fill="#9ccad3"/>
<rect x="534.2" y="126.88" width="9.4" height="11.59" fill="#65aebb"/>
<rect x="534.2" y="126.37" width="9.4" height="0.5" fill="#4f95a1"/>
<rect x="534.2" y="125.11" width="9.4" height="1.26" fill="#d8cbbb"/>
<rect x="549.9" y="131.41" width="9.4" height="11.09" fill="#9ccad3"/>
<rect x="549.9" y="120.32" width="9.4" height="11.09" fill="#65aebb"/>
<rect x="549.9" y="119.57" width="9.4" height="0.76" fill="#4f95a1"/>
<rect x="549.9" y="117.3" width="9.4" height="2.27" fill="#d8cbbb"/>
<rect x="565.6" y="124.86" width="9.4" height="17.64" fill="#9ccad3"/>
<rect x="565.6" y="114.28" width="9.4" height="10.58" fill="#65aebb"/>
<rect x="565.6" y="113.52" width="9.4" height="0.76" fill="#4f95a1"/>
<rect x="565.6" y="111" width="9.4" height="2.52" fill="#d8cbbb"/>
<rect x="581.3" y="118.81" width="9.4" height="23.69" fill="#9ccad3"/>
<rect x="581.3" y="106.72" width="9.4" height="12.1" fill="#65aebb"/>
<rect x="581.3" y="105.96" width="9.4" height="0.76" fill="#4f95a1"/>
<rect x="581.3" y="101.93" width="9.4" height="4.03" fill="#d8cbbb"/>
<rect x="597" y="111" width="9.4" height="31.5" fill="#9ccad3"/>
<rect x="597" y="100.42" width="9.4" height="10.58" fill="#65aebb"/>
<rect x="597" y="99.66" width="9.4" height="0.76" fill="#4f95a1"/>
<rect x="597" y="95.88" width="9.4" height="3.78" fill="#d8cbbb"/>
<rect x="612.7" y="88.82" width="9.4" height="53.68" fill="#9ccad3"/>
<rect x="612.7" y="77.23" width="9.4" height="11.59" fill="#65aebb"/>
<rect x="612.7" y="76.48" width="9.4" height="0.76" fill="#4f95a1"/>
<rect x="612.7" y="73.96" width="9.4" height="2.52" fill="#d8cbbb"/>
<rect x="628.4" y="76.22" width="9.4" height="66.28" fill="#9ccad3"/>
<rect x="628.4" y="67.66" width="9.4" height="8.57" fill="#65aebb"/>
<rect x="628.4" y="66.9" width="9.4" height="0.76" fill="#4f95a1"/>
<rect x="628.4" y="64.38" width="9.4" height="2.52" fill="#d8cbbb"/>
<rect x="644.1" y="46.99" width="9.4" height="95.51" fill="#9ccad3"/>
<rect x="644.1" y="40.94" width="9.4" height="6.05" fill="#65aebb"/>
<rect x="644.1" y="40.19" width="9.4" height="0.76" fill="#4f95a1"/>
<rect x="644.1" y="36.91" width="9.4" height="3.28" fill="#d8cbbb"/>
<line x1="507.5" y1="125.36" x2="507.5" y2="131.16" stroke="#7c7c7c" stroke-width="0.65"/>
<line x1="505.8" y1="125.36" x2="509.2" y2="125.36" stroke="#7c7c7c" stroke-width="0.65"/>
<line x1="505.8" y1="131.16" x2="509.2" y2="131.16" stroke="#7c7c7c" stroke-width="0.65"/>
<line x1="523.2" y1="127.88" x2="523.2" y2="129.4" stroke="#7c7c7c" stroke-width="0.65"/>
<line x1="521.5" y1="127.88" x2="524.9" y2="127.88" stroke="#7c7c7c" stroke-width="0.65"/>
<line x1="521.5" y1="129.4" x2="524.9" y2="129.4" stroke="#7c7c7c" stroke-width="0.65"/>
<line x1="523.2" y1="139.73" x2="523.2" y2="141.24" stroke="#7c7c7c" stroke-width="0.65"/>
<line x1="521.5" y1="139.73" x2="524.9" y2="139.73" stroke="#7c7c7c" stroke-width="0.65"/>
<line x1="521.5" y1="141.24" x2="524.9" y2="141.24" stroke="#7c7c7c" stroke-width="0.65"/>
<line x1="538.9" y1="126.12" x2="538.9" y2="127.38" stroke="#7c7c7c" stroke-width="0.65"/>
<line x1="537.2" y1="126.12" x2="540.6" y2="126.12" stroke="#7c7c7c" stroke-width="0.65"/>
<line x1="537.2" y1="127.38" x2="540.6" y2="127.38" stroke="#7c7c7c" stroke-width="0.65"/>
<line x1="538.9" y1="136.45" x2="538.9" y2="140.48" stroke="#7c7c7c" stroke-width="0.65"/>
<line x1="537.2" y1="136.45" x2="540.6" y2="136.45" stroke="#7c7c7c" stroke-width="0.65"/>
<line x1="537.2" y1="140.48" x2="540.6" y2="140.48" stroke="#7c7c7c" stroke-width="0.65"/>
<line x1="554.6" y1="117.8" x2="554.6" y2="119.82" stroke="#7c7c7c" stroke-width="0.65"/>
<line x1="552.9" y1="117.8" x2="556.3" y2="117.8" stroke="#7c7c7c" stroke-width="0.65"/>
<line x1="552.9" y1="119.82" x2="556.3" y2="119.82" stroke="#7c7c7c" stroke-width="0.65"/>
<line x1="554.6" y1="121.84" x2="554.6" y2="141.49" stroke="#7c7c7c" stroke-width="0.65"/>
<line x1="552.9" y1="121.84" x2="556.3" y2="121.84" stroke="#7c7c7c" stroke-width="0.65"/>
<line x1="552.9" y1="141.49" x2="556.3" y2="141.49" stroke="#7c7c7c" stroke-width="0.65"/>
<line x1="507.5" y1="140.48" x2="507.5" y2="142" stroke="#7c7c7c" stroke-width="0.65"/>
<line x1="505.8" y1="140.48" x2="509.2" y2="140.48" stroke="#7c7c7c" stroke-width="0.65"/>
<line x1="505.8" y1="142" x2="509.2" y2="142" stroke="#7c7c7c" stroke-width="0.65"/>
<line x1="570.3" y1="112.76" x2="570.3" y2="125.36" stroke="#7c7c7c" stroke-width="0.65"/>
<line x1="568.6" y1="112.76" x2="572" y2="112.76" stroke="#7c7c7c" stroke-width="0.65"/>
<line x1="568.6" y1="125.36" x2="572" y2="125.36" stroke="#7c7c7c" stroke-width="0.65"/>
<line x1="586" y1="100.92" x2="586" y2="134.18" stroke="#7c7c7c" stroke-width="0.65"/>
<line x1="584.3" y1="100.92" x2="587.7" y2="100.92" stroke="#7c7c7c" stroke-width="0.65"/>
<line x1="584.3" y1="134.18" x2="587.7" y2="134.18" stroke="#7c7c7c" stroke-width="0.65"/>
<line x1="601.7" y1="100.16" x2="601.7" y2="120.32" stroke="#7c7c7c" stroke-width="0.65"/>
<line x1="600" y1="100.16" x2="603.4" y2="100.16" stroke="#7c7c7c" stroke-width="0.65"/>
<line x1="600" y1="120.32" x2="603.4" y2="120.32" stroke="#7c7c7c" stroke-width="0.65"/>
<line x1="617.4" y1="77.23" x2="617.4" y2="92.1" stroke="#7c7c7c" stroke-width="0.65"/>
<line x1="615.7" y1="77.23" x2="619.1" y2="77.23" stroke="#7c7c7c" stroke-width="0.65"/>
<line x1="615.7" y1="92.1" x2="619.1" y2="92.1" stroke="#7c7c7c" stroke-width="0.65"/>
<line x1="633.1" y1="66.65" x2="633.1" y2="76.98" stroke="#7c7c7c" stroke-width="0.65"/>
<line x1="631.4" y1="66.65" x2="634.8" y2="66.65" stroke="#7c7c7c" stroke-width="0.65"/>
<line x1="631.4" y1="76.98" x2="634.8" y2="76.98" stroke="#7c7c7c" stroke-width="0.65"/>
<line x1="648.8" y1="25.82" x2="648.8" y2="67.15" stroke="#7c7c7c" stroke-width="0.65"/>
<line x1="647.1" y1="25.82" x2="650.5" y2="25.82" stroke="#7c7c7c" stroke-width="0.65"/>
<line x1="647.1" y1="67.15" x2="650.5" y2="67.15" stroke="#7c7c7c" stroke-width="0.65"/>
<line x1="523.2" y1="32.67" x2="523.2" y2="39.6" stroke="#7c7c7c" stroke-width="0.65"/>
<line x1="521.5" y1="32.67" x2="524.9" y2="32.67" stroke="#7c7c7c" stroke-width="0.65"/>
<line x1="521.5" y1="39.6" x2="524.9" y2="39.6" stroke="#7c7c7c" stroke-width="0.65"/>
<line x1="554.6" y1="33.93" x2="554.6" y2="51.15" stroke="#7c7c7c" stroke-width="0.65"/>
<line x1="552.9" y1="33.93" x2="556.3" y2="33.93" stroke="#7c7c7c" stroke-width="0.65"/>
<line x1="552.9" y1="51.15" x2="556.3" y2="51.15" stroke="#7c7c7c" stroke-width="0.65"/>
<line x1="601.7" y1="52.2" x2="601.7" y2="62.7" stroke="#7c7c7c" stroke-width="0.65"/>
<line x1="600" y1="52.2" x2="603.4" y2="52.2" stroke="#7c7c7c" stroke-width="0.65"/>
<line x1="600" y1="62.7" x2="603.4" y2="62.7" stroke="#7c7c7c" stroke-width="0.65"/>
<line x1="617.4" y1="74.88" x2="617.4" y2="80.55" stroke="#7c7c7c" stroke-width="0.65"/>
<line x1="615.7" y1="74.88" x2="619.1" y2="74.88" stroke="#7c7c7c" stroke-width="0.65"/>
<line x1="615.7" y1="80.55" x2="619.1" y2="80.55" stroke="#7c7c7c" stroke-width="0.65"/>
<line x1="648.8" y1="92.1" x2="648.8" y2="104.7" stroke="#7c7c7c" stroke-width="0.65"/>
<line x1="647.1" y1="92.1" x2="650.5" y2="92.1" stroke="#7c7c7c" stroke-width="0.65"/>
<line x1="647.1" y1="104.7" x2="650.5" y2="104.7" stroke="#7c7c7c" stroke-width="0.65"/>
<path d="M507.5,27.84 C510.12,29.24 517.97,35.54 523.2,36.24 C528.43,36.94 533.67,31.1 538.9,32.04 C544.13,32.98 549.37,39.84 554.6,41.91 C559.83,43.97 565.07,43.38 570.3,44.43 C575.53,45.48 580.77,46 586,48.21 C591.23,50.41 596.47,52.72 601.7,57.66 C606.93,62.59 612.17,74.04 617.4,77.82 C622.63,81.6 627.87,77.19 633.1,80.34 C638.33,83.49 646.18,93.99 648.8,96.72" fill="none" stroke="#dd7a6e" stroke-width="1.15" stroke-linejoin="round"/>
<circle cx="507.5" cy="27.84" r="3.3" fill="url(#gS)"/>
<circle cx="523.2" cy="36.24" r="3.3" fill="url(#gS)"/>
<circle cx="538.9" cy="32.04" r="3.3" fill="url(#gS)"/>
<circle cx="554.6" cy="41.91" r="3.3" fill="url(#gS)"/>
<circle cx="570.3" cy="44.43" r="3.3" fill="url(#gS)"/>
<circle cx="586" cy="48.21" r="3.3" fill="url(#gS)"/>
<circle cx="601.7" cy="57.66" r="3.3" fill="url(#gS)"/>
<circle cx="617.4" cy="77.82" r="3.3" fill="url(#gS)"/>
<circle cx="633.1" cy="80.34" r="3.3" fill="url(#gS)"/>
<circle cx="648.8" cy="96.72" r="3.3" fill="url(#gS)"/>
<polyline points="499.5,142.5 499.5,16.5 656.3,16.5 656.3,142.5" fill="none" stroke="#231f20" stroke-width="1.1"/>
<line x1="498.95" y1="142.5" x2="656.85" y2="142.5" stroke="#231f20" stroke-width="1.1"/>
<line x1="497" y1="142.5" x2="499.5" y2="142.5" stroke="#231f20" stroke-width="0.9"/>
<text x="495.7" y="145.5" font-size="8.6" text-anchor="end" fill="#231f20" stroke="#231f20">0</text>
<line x1="497" y1="117.3" x2="499.5" y2="117.3" stroke="#231f20" stroke-width="0.9"/>
<text x="495.7" y="120.3" font-size="8.6" text-anchor="end" fill="#231f20" stroke="#231f20">10</text>
<line x1="497" y1="92.1" x2="499.5" y2="92.1" stroke="#231f20" stroke-width="0.9"/>
<text x="495.7" y="95.1" font-size="8.6" text-anchor="end" fill="#231f20" stroke="#231f20">20</text>
<line x1="497" y1="66.9" x2="499.5" y2="66.9" stroke="#231f20" stroke-width="0.9"/>
<text x="495.7" y="69.9" font-size="8.6" text-anchor="end" fill="#231f20" stroke="#231f20">30</text>
<line x1="497" y1="41.7" x2="499.5" y2="41.7" stroke="#231f20" stroke-width="0.9"/>
<text x="495.7" y="44.7" font-size="8.6" text-anchor="end" fill="#231f20" stroke="#231f20">40</text>
<line x1="497" y1="16.5" x2="499.5" y2="16.5" stroke="#231f20" stroke-width="0.9"/>
<text x="495.7" y="19.5" font-size="8.6" text-anchor="end" fill="#231f20" stroke="#231f20">50</text>
<line x1="656.3" y1="142.5" x2="658.8" y2="142.5" stroke="#231f20" stroke-width="0.9"/>
<text x="659.9" y="145.5" font-size="8.6" text-anchor="start" fill="#231f20" stroke="#231f20">40</text>
<line x1="656.3" y1="100.5" x2="658.8" y2="100.5" stroke="#231f20" stroke-width="0.9"/>
<text x="659.9" y="103.5" font-size="8.6" text-anchor="start" fill="#231f20" stroke="#231f20">60</text>
<line x1="656.3" y1="58.5" x2="658.8" y2="58.5" stroke="#231f20" stroke-width="0.9"/>
<text x="659.9" y="61.5" font-size="8.6" text-anchor="start" fill="#231f20" stroke="#231f20">80</text>
<line x1="656.3" y1="16.5" x2="658.8" y2="16.5" stroke="#231f20" stroke-width="0.9"/>
<text x="659.9" y="19.5" font-size="8.6" text-anchor="start" fill="#231f20" stroke="#231f20">100</text>
<line x1="507.5" y1="142.5" x2="507.5" y2="145" stroke="#231f20" stroke-width="0.9"/>
<text x="507.5" y="153.5" font-size="8.6" text-anchor="middle" fill="#231f20" stroke="#231f20">0.5</text>
<line x1="523.2" y1="142.5" x2="523.2" y2="145" stroke="#231f20" stroke-width="0.9"/>
<text x="523.2" y="153.5" font-size="8.6" text-anchor="middle" fill="#231f20" stroke="#231f20">1</text>
<line x1="538.9" y1="142.5" x2="538.9" y2="145" stroke="#231f20" stroke-width="0.9"/>
<text x="538.9" y="153.5" font-size="8.6" text-anchor="middle" fill="#231f20" stroke="#231f20">2</text>
<line x1="554.6" y1="142.5" x2="554.6" y2="145" stroke="#231f20" stroke-width="0.9"/>
<text x="554.6" y="153.5" font-size="8.6" text-anchor="middle" fill="#231f20" stroke="#231f20">3</text>
<line x1="570.3" y1="142.5" x2="570.3" y2="145" stroke="#231f20" stroke-width="0.9"/>
<text x="570.3" y="153.5" font-size="8.6" text-anchor="middle" fill="#231f20" stroke="#231f20">4</text>
<line x1="586" y1="142.5" x2="586" y2="145" stroke="#231f20" stroke-width="0.9"/>
<text x="586" y="153.5" font-size="8.6" text-anchor="middle" fill="#231f20" stroke="#231f20">5</text>
<line x1="601.7" y1="142.5" x2="601.7" y2="145" stroke="#231f20" stroke-width="0.9"/>
<text x="601.7" y="153.5" font-size="8.6" text-anchor="middle" fill="#231f20" stroke="#231f20">6</text>
<line x1="617.4" y1="142.5" x2="617.4" y2="145" stroke="#231f20" stroke-width="0.9"/>
<text x="617.4" y="153.5" font-size="8.6" text-anchor="middle" fill="#231f20" stroke="#231f20">7</text>
<line x1="633.1" y1="142.5" x2="633.1" y2="145" stroke="#231f20" stroke-width="0.9"/>
<text x="633.1" y="153.5" font-size="8.6" text-anchor="middle" fill="#231f20" stroke="#231f20">8</text>
<line x1="648.8" y1="142.5" x2="648.8" y2="145" stroke="#231f20" stroke-width="0.9"/>
<text x="648.8" y="153.5" font-size="8.6" text-anchor="middle" fill="#231f20" stroke="#231f20">9</text>
<text x="578" y="166.2" font-size="9.8" text-anchor="middle" fill="#231f20" stroke="#231f20">j (A)</text>
<text x="480.7" y="78.8" font-size="9.4" text-anchor="middle" fill="#231f20" stroke="#231f20" transform="rotate(-90 480.7 78.8)">FE (%)</text>
<text x="677.5" y="80" font-size="9.4" text-anchor="middle" fill="#231f20" stroke="#231f20" transform="rotate(90 677.5 80)">Selectivity (%)</text>
<rect x="503.8" y="63.2" width="15.7" height="7.6" fill="#9ccad3"/>
<rect x="534.6" y="63.2" width="16.1" height="7.6" fill="#65aebb"/>
<rect x="567.7" y="63.2" width="16.6" height="7.6" fill="#4f95a1"/>
<rect x="503.8" y="74.6" width="15.7" height="7.9" fill="#d8cbbb"/>
<text x="521.8" y="70.3" font-size="7.6" fill="#231f20">H<tspan font-size="4.8" dy="1.8">2</tspan></text>
<text x="552.6" y="70.3" font-size="7.6" text-anchor="start" fill="#231f20" stroke="#231f20">CO</text>
<text x="586.2" y="70.3" font-size="7.6" fill="#231f20">O<tspan font-size="4.8" dy="1.8">2</tspan></text>
<text x="521.8" y="81.6" font-size="7.6" fill="#231f20">CH<tspan font-size="4.8" dy="1.8">3</tspan><tspan dy="-1.8">CH(OH)COO</tspan><tspan font-size="4.8" dy="-3">-</tspan></text>
<line x1="503.8" y1="90.5" x2="520.4" y2="90.5" stroke="#dd7a6e" stroke-width="1.2"/>
<circle cx="512" cy="90.5" r="3.3" fill="url(#gS)"/>
<text x="523" y="93.2" font-size="7.6" text-anchor="start" fill="#231f20" stroke="#231f20">formate selectivity</text>
<rect x="5" y="190" width="236.5" height="169" fill="none" stroke="#4e4042" stroke-width="1"/>
<rect x="25.3" y="195.8" width="44.5" height="155.9" fill="url(#hm1)"/>
<polygon points="67,195.8 67,337.7 66.97,339.45 66.88,341.2 66.72,342.95 66.51,344.7 66.23,346.45 65.9,348.2 65.5,349.95 65.04,351.7 69.8,351.7 69.8,195.8" fill="rgb(126,13,25)" fill-opacity="0.08"/>
<polygon points="67.16,195.8 67.16,337.7 67.13,339.45 67.04,341.2 66.9,342.95 66.69,344.7 66.43,346.45 66.11,348.2 65.74,349.95 65.3,351.7 69.8,351.7 69.8,195.8" fill="rgb(133,15,26)" fill-opacity="0.24"/>
<polygon points="67.31,195.8 67.31,337.7 67.28,339.45 67.2,341.2 67.07,342.95 66.88,344.7 66.63,346.45 66.33,348.2 65.98,349.95 65.57,351.7 69.8,351.7 69.8,195.8" fill="rgb(140,17,28)" fill-opacity="0.40"/>
<polygon points="67.47,195.8 67.47,337.7 67.44,339.45 67.36,341.2 67.24,342.95 67.06,344.7 66.83,346.45 66.55,348.2 66.22,349.95 65.83,351.7 69.8,351.7 69.8,195.8" fill="rgb(148,19,30)" fill-opacity="0.56"/>
<polygon points="67.62,195.8 67.62,337.7 67.6,339.45 67.53,341.2 67.41,342.95 67.24,344.7 67.03,346.45 66.76,348.2 66.46,349.95 66.1,351.7 69.8,351.7 69.8,195.8" fill="rgb(155,21,31)" fill-opacity="0.71"/>
<polygon points="67.78,195.8 67.78,337.7 67.76,339.45 67.69,341.2 67.58,342.95 67.42,344.7 67.22,346.45 66.98,348.2 66.69,349.95 66.36,351.7 69.8,351.7 69.8,195.8" fill="rgb(162,22,33)" fill-opacity="0.87"/>
<polygon points="67.93,195.8 67.93,337.7 67.91,339.45 67.85,341.2 67.75,342.95 67.61,344.7 67.42,346.45 67.2,348.2 66.93,349.95 66.63,351.7 69.8,351.7 69.8,195.8" fill="rgb(170,26,34)" fill-opacity="1.00"/>
<polygon points="68.09,195.8 68.09,337.7 68.07,339.45 68.01,341.2 67.92,342.95 67.79,344.7 67.62,346.45 67.42,348.2 67.17,349.95 66.89,351.7 69.8,351.7 69.8,195.8" fill="rgb(181,33,34)" fill-opacity="1.00"/>
<polygon points="68.24,195.8 68.24,337.7 68.23,339.45 68.18,341.2 68.09,342.95 67.97,344.7 67.82,346.45 67.63,348.2 67.41,349.95 67.16,351.7 69.8,351.7 69.8,195.8" fill="rgb(191,41,34)" fill-opacity="1.00"/>
<polygon points="68.4,195.8 68.4,337.7 68.38,339.45 68.34,341.2 68.26,342.95 68.16,344.7 68.02,346.45 67.85,348.2 67.65,349.95 67.42,351.7 69.8,351.7 69.8,195.8" fill="rgb(202,48,34)" fill-opacity="1.00"/>
<polygon points="68.56,195.8 68.56,337.7 68.54,339.45 68.5,341.2 68.43,342.95 68.34,344.7 68.22,346.45 68.07,348.2 67.89,349.95 67.68,351.7 69.8,351.7 69.8,195.8" fill="rgb(213,56,34)" fill-opacity="1.00"/>
<polygon points="68.71,195.8 68.71,337.7 68.7,339.45 68.66,341.2 68.6,342.95 68.52,344.7 68.41,346.45 68.28,348.2 68.13,349.95 67.95,351.7 69.8,351.7 69.8,195.8" fill="rgb(220,79,36)" fill-opacity="1.00"/>
<polygon points="68.87,195.8 68.87,337.7 68.86,339.45 68.83,341.2 68.77,342.95 68.7,344.7 68.61,346.45 68.5,348.2 68.37,349.95 68.21,351.7 69.8,351.7 69.8,195.8" fill="rgb(226,108,38)" fill-opacity="1.00"/>
<polygon points="69.02,195.8 69.02,337.7 69.01,339.45 68.99,341.2 68.95,342.95 68.89,344.7 68.81,346.45 68.72,348.2 68.61,349.95 68.48,351.7 69.8,351.7 69.8,195.8" fill="rgb(232,138,40)" fill-opacity="1.00"/>
<polygon points="69.18,195.8 69.18,337.7 69.17,339.45 69.15,341.2 69.12,342.95 69.07,344.7 69.01,346.45 68.93,348.2 68.84,349.95 68.74,351.7 69.8,351.7 69.8,195.8" fill="rgb(217,165,49)" fill-opacity="1.00"/>
<polygon points="69.33,195.8 69.33,337.7 69.33,339.45 69.31,341.2 69.29,342.95 69.25,344.7 69.21,346.45 69.15,348.2 69.08,349.95 69.01,351.7 69.8,351.7 69.8,195.8" fill="rgb(202,192,59)" fill-opacity="1.00"/>
<polygon points="69.49,195.8 69.49,337.7 69.49,339.45 69.48,341.2 69.46,342.95 69.43,344.7 69.4,346.45 69.37,348.2 69.32,349.95 69.27,351.7 69.8,351.7 69.8,195.8" fill="rgb(166,186,73)" fill-opacity="1.00"/>
<polygon points="69.64,195.8 69.64,337.7 69.64,339.45 69.64,341.2 69.63,342.95 69.62,344.7 69.6,346.45 69.58,348.2 69.56,349.95 69.54,351.7 69.8,351.7 69.8,195.8" fill="rgb(126,174,88)" fill-opacity="1.00"/>
<rect x="94.8" y="196.3" width="44.8" height="155.6" fill="url(#hm2)"/>
<polygon points="135,196.3 135,325.9 134.91,329.15 134.63,332.4 134.16,335.65 133.5,338.9 132.66,342.15 131.64,345.4 130.42,348.65 129.02,351.9 139.6,351.9 139.6,196.3" fill="rgb(136,19,31)" fill-opacity="0.09"/>
<polygon points="135.26,196.3 135.26,325.9 135.17,329.15 134.9,332.4 134.46,335.65 133.84,338.9 133.05,342.15 132.08,345.4 130.93,348.65 129.61,351.9 139.6,351.9 139.6,196.3" fill="rgb(141,20,32)" fill-opacity="0.28"/>
<polygon points="135.51,196.3 135.51,325.9 135.43,329.15 135.18,332.4 134.76,335.65 134.18,338.9 133.43,342.15 132.52,345.4 131.44,348.65 130.2,351.9 139.6,351.9 139.6,196.3" fill="rgb(146,22,33)" fill-opacity="0.46"/>
<polygon points="135.77,196.3 135.77,325.9 135.69,329.15 135.46,332.4 135.07,335.65 134.52,338.9 133.82,342.15 132.96,345.4 131.95,348.65 130.78,351.9 139.6,351.9 139.6,196.3" fill="rgb(151,23,34)" fill-opacity="0.65"/>
<polygon points="136.02,196.3 136.02,325.9 135.95,329.15 135.73,332.4 135.37,335.65 134.86,338.9 134.21,342.15 133.41,345.4 132.46,348.65 131.37,351.9 139.6,351.9 139.6,196.3" fill="rgb(156,25,35)" fill-opacity="0.83"/>
<polygon points="136.28,196.3 136.28,325.9 136.21,329.15 136.01,332.4 135.67,335.65 135.2,338.9 134.59,342.15 133.85,345.4 132.97,348.65 131.96,351.9 139.6,351.9 139.6,196.3" fill="rgb(162,27,36)" fill-opacity="1.00"/>
<polygon points="136.53,196.3 136.53,325.9 136.47,329.15 136.28,332.4 135.97,335.65 135.54,338.9 134.98,342.15 134.29,345.4 133.48,348.65 132.55,351.9 139.6,351.9 139.6,196.3" fill="rgb(177,38,38)" fill-opacity="1.00"/>
<polygon points="136.79,196.3 136.79,325.9 136.73,329.15 136.56,332.4 136.27,335.65 135.88,338.9 135.36,342.15 134.73,345.4 133.99,348.65 133.13,351.9 139.6,351.9 139.6,196.3" fill="rgb(193,48,40)" fill-opacity="1.00"/>
<polygon points="137.04,196.3 137.04,325.9 136.99,329.15 136.84,332.4 136.58,335.65 136.21,338.9 135.75,342.15 135.18,345.4 134.5,348.65 133.72,351.9 139.6,351.9 139.6,196.3" fill="rgb(208,59,41)" fill-opacity="1.00"/>
<polygon points="137.3,196.3 137.3,325.9 137.25,329.15 137.11,332.4 136.88,335.65 136.55,338.9 136.13,342.15 135.62,345.4 135.01,348.65 134.31,351.9 139.6,351.9 139.6,196.3" fill="rgb(220,83,43)" fill-opacity="1.00"/>
<polygon points="137.56,196.3 137.56,325.9 137.51,329.15 137.39,332.4 137.18,335.65 136.89,338.9 136.52,342.15 136.06,345.4 135.52,348.65 134.9,351.9 139.6,351.9 139.6,196.3" fill="rgb(227,121,46)" fill-opacity="1.00"/>
<polygon points="137.81,196.3 137.81,325.9 137.77,329.15 137.67,332.4 137.48,335.65 137.23,338.9 136.9,342.15 136.5,345.4 136.03,348.65 135.49,351.9 139.6,351.9 139.6,196.3" fill="rgb(234,159,48)" fill-opacity="1.00"/>
<polygon points="138.07,196.3 138.07,325.9 138.04,329.15 137.94,332.4 137.79,335.65 137.57,338.9 137.29,342.15 136.95,345.4 136.54,348.65 136.07,351.9 139.6,351.9 139.6,196.3" fill="rgb(215,182,55)" fill-opacity="1.00"/>
<polygon points="138.32,196.3 138.32,325.9 138.3,329.15 138.22,332.4 138.09,335.65 137.91,338.9 137.67,342.15 137.39,345.4 137.05,348.65 136.66,351.9 139.6,351.9 139.6,196.3" fill="rgb(190,198,65)" fill-opacity="1.00"/>
<polygon points="138.58,196.3 138.58,325.9 138.56,329.15 138.49,332.4 138.39,335.65 138.25,338.9 138.06,342.15 137.83,345.4 137.56,348.65 137.25,351.9 139.6,351.9 139.6,196.3" fill="rgb(132,188,92)" fill-opacity="1.00"/>
<polygon points="138.83,196.3 138.83,325.9 138.82,329.15 138.77,332.4 138.69,335.65 138.58,338.9 138.44,342.15 138.27,345.4 138.07,348.65 137.84,351.9 139.6,351.9 139.6,196.3" fill="rgb(89,178,132)" fill-opacity="1.00"/>
<polygon points="139.09,196.3 139.09,325.9 139.08,329.15 139.05,332.4 139,335.65 138.92,338.9 138.83,342.15 138.72,345.4 138.58,348.65 138.42,351.9 139.6,351.9 139.6,196.3" fill="rgb(58,169,181)" fill-opacity="1.00"/>
<polygon points="139.34,196.3 139.34,325.9 139.34,329.15 139.32,332.4 139.3,335.65 139.26,338.9 139.21,342.15 139.16,345.4 139.09,348.65 139.01,351.9 139.6,351.9 139.6,196.3" fill="rgb(52,144,192)" fill-opacity="1.00"/>
<rect x="163.3" y="196" width="44.5" height="155.5" fill="url(#hm3)"/>
<polygon points="202,196 202,321.5 201.9,325.25 201.6,329 201.1,332.75 200.41,336.5 199.51,340.25 198.41,344 197.12,347.75 195.62,351.5 207.8,351.5 207.8,196" fill="rgb(163,27,37)" fill-opacity="0.14"/>
<polygon points="202.32,196 202.32,321.5 202.23,325.25 201.95,329 201.47,332.75 200.82,336.5 199.97,340.25 198.93,344 197.71,347.75 196.3,351.5 207.8,351.5 207.8,196" fill="rgb(170,28,38)" fill-opacity="0.42"/>
<polygon points="202.64,196 202.64,321.5 202.56,325.25 202.29,329 201.85,332.75 201.23,336.5 200.43,340.25 199.45,344 198.3,347.75 196.97,351.5 207.8,351.5 207.8,196" fill="rgb(177,29,39)" fill-opacity="0.69"/>
<polygon points="202.97,196 202.97,321.5 202.88,325.25 202.63,329 202.22,332.75 201.64,336.5 200.89,340.25 199.98,344 198.9,347.75 197.65,351.5 207.8,351.5 207.8,196" fill="rgb(183,30,40)" fill-opacity="0.97"/>
<polygon points="203.29,196 203.29,321.5 203.21,325.25 202.98,329 202.59,332.75 202.05,336.5 201.35,340.25 200.5,344 199.49,347.75 198.33,351.5 207.8,351.5 207.8,196" fill="rgb(194,44,40)" fill-opacity="1.00"/>
<polygon points="203.61,196 203.61,321.5 203.54,325.25 203.32,329 202.96,332.75 202.46,336.5 201.81,340.25 201.02,344 200.08,347.75 199,351.5 207.8,351.5 207.8,196" fill="rgb(205,61,41)" fill-opacity="1.00"/>
<polygon points="203.93,196 203.93,321.5 203.87,325.25 203.67,329 203.34,332.75 202.87,336.5 202.27,340.25 201.54,344 200.68,347.75 199.68,351.5 207.8,351.5 207.8,196" fill="rgb(216,77,42)" fill-opacity="1.00"/>
<polygon points="204.26,196 204.26,321.5 204.19,325.25 204.01,329 203.71,332.75 203.28,336.5 202.73,340.25 202.06,344 201.27,347.75 200.36,351.5 207.8,351.5 207.8,196" fill="rgb(225,98,43)" fill-opacity="1.00"/>
<polygon points="204.58,196 204.58,321.5 204.52,325.25 204.36,329 204.08,332.75 203.69,336.5 203.19,340.25 202.58,344 201.86,347.75 201.03,351.5 207.8,351.5 207.8,196" fill="rgb(230,131,46)" fill-opacity="1.00"/>
<polygon points="204.9,196 204.9,321.5 204.85,325.25 204.7,329 204.45,332.75 204.1,336.5 203.65,340.25 203.11,344 202.46,347.75 201.71,351.5 207.8,351.5 207.8,196" fill="rgb(232,163,49)" fill-opacity="1.00"/>
<polygon points="205.22,196 205.22,321.5 205.18,325.25 205.05,329 204.82,332.75 204.51,336.5 204.11,340.25 203.63,344 203.05,347.75 202.39,351.5 207.8,351.5 207.8,196" fill="rgb(218,183,55)" fill-opacity="1.00"/>
<polygon points="205.54,196 205.54,321.5 205.51,325.25 205.39,329 205.2,332.75 204.92,336.5 204.58,340.25 204.15,344 203.64,347.75 203.06,351.5 207.8,351.5 207.8,196" fill="rgb(199,199,63)" fill-opacity="1.00"/>
<polygon points="205.87,196 205.87,321.5 205.83,325.25 205.73,329 205.57,332.75 205.34,336.5 205.04,340.25 204.67,344 204.24,347.75 203.74,351.5 207.8,351.5 207.8,196" fill="rgb(153,191,81)" fill-opacity="1.00"/>
<polygon points="206.19,196 206.19,321.5 206.16,325.25 206.08,329 205.94,332.75 205.75,336.5 205.5,340.25 205.19,344 204.83,347.75 204.42,351.5 207.8,351.5 207.8,196" fill="rgb(108,183,104)" fill-opacity="1.00"/>
<polygon points="206.51,196 206.51,321.5 206.49,325.25 206.42,329 206.31,332.75 206.16,336.5 205.96,340.25 205.71,344 205.43,347.75 205.09,351.5 207.8,351.5 207.8,196" fill="rgb(77,175,148)" fill-opacity="1.00"/>
<polygon points="206.83,196 206.83,321.5 206.82,325.25 206.77,329 206.68,332.75 206.57,336.5 206.42,340.25 206.24,344 206.02,347.75 205.77,351.5 207.8,351.5 207.8,196" fill="rgb(55,163,183)" fill-opacity="1.00"/>
<polygon points="207.16,196 207.16,321.5 207.14,325.25 207.11,329 207.06,332.75 206.98,336.5 206.88,340.25 206.76,344 206.61,347.75 206.45,351.5 207.8,351.5 207.8,196" fill="rgb(49,144,200)" fill-opacity="1.00"/>
<polygon points="207.48,196 207.48,321.5 207.47,325.25 207.46,329 207.43,332.75 207.39,336.5 207.34,340.25 207.28,344 207.21,347.75 207.12,351.5 207.8,351.5 207.8,196" fill="rgb(44,109,182)" fill-opacity="1.00"/>
<line x1="7.5" y1="195.8" x2="25" y2="195.8" stroke="#777" stroke-width="0.9"/>
<line x1="7.5" y1="350.8" x2="25" y2="350.8" stroke="#777" stroke-width="0.9"/>
<line x1="16.1" y1="246.2" x2="16.1" y2="198.9" stroke="#555" stroke-width="0.8" marker-end="url(#ah)"/>
<line x1="16.1" y1="295.6" x2="16.1" y2="341.7" stroke="#555" stroke-width="0.8" marker-end="url(#ah)"/>
<text x="18.8" y="271.5" font-size="9.3" text-anchor="middle" fill="#2a2a2a" stroke="#2a2a2a" transform="rotate(-90 18.8 271.5)">14.1 mm</text>
<line x1="76" y1="196.5" x2="93.5" y2="196.5" stroke="#777" stroke-width="0.9"/>
<line x1="76" y1="351.2" x2="93.5" y2="351.2" stroke="#777" stroke-width="0.9"/>
<line x1="84.4" y1="246.2" x2="84.4" y2="198.9" stroke="#555" stroke-width="0.8" marker-end="url(#ah)"/>
<line x1="84.4" y1="295.6" x2="84.4" y2="341.7" stroke="#555" stroke-width="0.8" marker-end="url(#ah)"/>
<text x="87.1" y="271.5" font-size="9.3" text-anchor="middle" fill="#2a2a2a" stroke="#2a2a2a" transform="rotate(-90 87.1 271.5)">50.0 mm</text>
<line x1="144.3" y1="195.6" x2="161.8" y2="195.6" stroke="#777" stroke-width="0.9"/>
<line x1="144.3" y1="351" x2="161.8" y2="351" stroke="#777" stroke-width="0.9"/>
<line x1="152.8" y1="246.2" x2="152.8" y2="198.9" stroke="#555" stroke-width="0.8" marker-end="url(#ah)"/>
<line x1="152.8" y1="295.6" x2="152.8" y2="341.7" stroke="#555" stroke-width="0.8" marker-end="url(#ah)"/>
<text x="155.5" y="271.5" font-size="9.3" text-anchor="middle" fill="#2a2a2a" stroke="#2a2a2a" transform="rotate(-90 155.5 271.5)">100.0 mm</text>
<rect x="213.9" y="196.5" width="5.3" height="152" fill="url(#cbD)"/>
<line x1="219.2" y1="216" x2="220.6" y2="216" stroke="#333" stroke-width="0.7"/>
<text x="221.8" y="218.8" font-size="7.9" text-anchor="start" fill="#333" stroke="#333">13.8</text>
<line x1="219.2" y1="234.64" x2="220.6" y2="234.64" stroke="#333" stroke-width="0.7"/>
<text x="221.8" y="237.44" font-size="7.9" text-anchor="start" fill="#333" stroke="#333">13.6</text>
<line x1="219.2" y1="253.28" x2="220.6" y2="253.28" stroke="#333" stroke-width="0.7"/>
<text x="221.8" y="256.08" font-size="7.9" text-anchor="start" fill="#333" stroke="#333">13.4</text>
<line x1="219.2" y1="271.92" x2="220.6" y2="271.92" stroke="#333" stroke-width="0.7"/>
<text x="221.8" y="274.72" font-size="7.9" text-anchor="start" fill="#333" stroke="#333">13.2</text>
<line x1="219.2" y1="290.56" x2="220.6" y2="290.56" stroke="#333" stroke-width="0.7"/>
<text x="221.8" y="293.36" font-size="7.9" text-anchor="start" fill="#333" stroke="#333">13.0</text>
<line x1="219.2" y1="309.2" x2="220.6" y2="309.2" stroke="#333" stroke-width="0.7"/>
<text x="221.8" y="312" font-size="7.9" text-anchor="start" fill="#333" stroke="#333">12.8</text>
<line x1="219.2" y1="327.84" x2="220.6" y2="327.84" stroke="#333" stroke-width="0.7"/>
<text x="221.8" y="330.64" font-size="7.9" text-anchor="start" fill="#333" stroke="#333">12.6</text>
<line x1="219.2" y1="346.48" x2="220.6" y2="346.48" stroke="#333" stroke-width="0.7"/>
<text x="221.8" y="349.28" font-size="7.9" text-anchor="start" fill="#333" stroke="#333">12.4</text>
<rect x="282.5" y="200.2" width="156.75" height="126.05" fill="none" stroke="#231f20" stroke-width="1.1"/>
<line x1="280" y1="323.75" x2="282.5" y2="323.75" stroke="#231f20" stroke-width="0.9"/>
<text x="278.7" y="326.75" font-size="8.6" text-anchor="end" fill="#231f20" stroke="#231f20">0</text>
<line x1="280" y1="299" x2="282.5" y2="299" stroke="#231f20" stroke-width="0.9"/>
<text x="278.7" y="302" font-size="8.6" text-anchor="end" fill="#231f20" stroke="#231f20">10</text>
<line x1="280" y1="274.25" x2="282.5" y2="274.25" stroke="#231f20" stroke-width="0.9"/>
<text x="278.7" y="277.25" font-size="8.6" text-anchor="end" fill="#231f20" stroke="#231f20">20</text>
<line x1="280" y1="249.5" x2="282.5" y2="249.5" stroke="#231f20" stroke-width="0.9"/>
<text x="278.7" y="252.5" font-size="8.6" text-anchor="end" fill="#231f20" stroke="#231f20">30</text>
<line x1="280" y1="224.75" x2="282.5" y2="224.75" stroke="#231f20" stroke-width="0.9"/>
<text x="278.7" y="227.75" font-size="8.6" text-anchor="end" fill="#231f20" stroke="#231f20">40</text>
<line x1="280" y1="200" x2="282.5" y2="200" stroke="#231f20" stroke-width="0.9"/>
<text x="278.7" y="203" font-size="8.6" text-anchor="end" fill="#231f20" stroke="#231f20">50</text>
<line x1="296.75" y1="326.25" x2="296.75" y2="328.75" stroke="#231f20" stroke-width="0.9"/>
<text x="296.75" y="337.3" font-size="8.6" text-anchor="middle" fill="#231f20" stroke="#231f20">0.5</text>
<line x1="311" y1="326.25" x2="311" y2="328.75" stroke="#231f20" stroke-width="0.9"/>
<text x="311" y="337.3" font-size="8.6" text-anchor="middle" fill="#231f20" stroke="#231f20">1</text>
<line x1="325.25" y1="326.25" x2="325.25" y2="328.75" stroke="#231f20" stroke-width="0.9"/>
<text x="325.25" y="337.3" font-size="8.6" text-anchor="middle" fill="#231f20" stroke="#231f20">2</text>
<line x1="339.5" y1="326.25" x2="339.5" y2="328.75" stroke="#231f20" stroke-width="0.9"/>
<text x="339.5" y="337.3" font-size="8.6" text-anchor="middle" fill="#231f20" stroke="#231f20">3</text>
<line x1="353.75" y1="326.25" x2="353.75" y2="328.75" stroke="#231f20" stroke-width="0.9"/>
<text x="353.75" y="337.3" font-size="8.6" text-anchor="middle" fill="#231f20" stroke="#231f20">4</text>
<line x1="368" y1="326.25" x2="368" y2="328.75" stroke="#231f20" stroke-width="0.9"/>
<text x="368" y="337.3" font-size="8.6" text-anchor="middle" fill="#231f20" stroke="#231f20">5</text>
<line x1="382.25" y1="326.25" x2="382.25" y2="328.75" stroke="#231f20" stroke-width="0.9"/>
<text x="382.25" y="337.3" font-size="8.6" text-anchor="middle" fill="#231f20" stroke="#231f20">6</text>
<line x1="396.5" y1="326.25" x2="396.5" y2="328.75" stroke="#231f20" stroke-width="0.9"/>
<text x="396.5" y="337.3" font-size="8.6" text-anchor="middle" fill="#231f20" stroke="#231f20">7</text>
<line x1="410.75" y1="326.25" x2="410.75" y2="328.75" stroke="#231f20" stroke-width="0.9"/>
<text x="410.75" y="337.3" font-size="8.6" text-anchor="middle" fill="#231f20" stroke="#231f20">8</text>
<line x1="425" y1="326.25" x2="425" y2="328.75" stroke="#231f20" stroke-width="0.9"/>
<text x="425" y="337.3" font-size="8.6" text-anchor="middle" fill="#231f20" stroke="#231f20">9</text>
<text x="360.5" y="349.6" font-size="9.8" text-anchor="middle" fill="#231f20" stroke="#231f20">j (A)</text>
<text x="261.4" y="262.6" font-size="9.5" text-anchor="middle" fill="#231f20" transform="rotate(-90 261.4 262.6)">H<tspan font-size="5.6" dy="2">2</tspan><tspan dy="-2"> FE (%)</tspan></text>
<line x1="339.5" y1="303.21" x2="339.5" y2="322.02" stroke="#9a9a9a" stroke-width="0.6"/>
<line x1="338.1" y1="303.21" x2="340.9" y2="303.21" stroke="#9a9a9a" stroke-width="0.6"/>
<line x1="338.1" y1="322.02" x2="340.9" y2="322.02" stroke="#9a9a9a" stroke-width="0.6"/>
<line x1="353.75" y1="297.02" x2="353.75" y2="315.09" stroke="#9a9a9a" stroke-width="0.6"/>
<line x1="352.35" y1="297.02" x2="355.15" y2="297.02" stroke="#9a9a9a" stroke-width="0.6"/>
<line x1="352.35" y1="315.09" x2="355.15" y2="315.09" stroke="#9a9a9a" stroke-width="0.6"/>
<line x1="368" y1="294.55" x2="368" y2="306.43" stroke="#9a9a9a" stroke-width="0.6"/>
<line x1="366.6" y1="294.55" x2="369.4" y2="294.55" stroke="#9a9a9a" stroke-width="0.6"/>
<line x1="366.6" y1="306.43" x2="369.4" y2="306.43" stroke="#9a9a9a" stroke-width="0.6"/>
<line x1="382.25" y1="283.65" x2="382.25" y2="302.46" stroke="#9a9a9a" stroke-width="0.6"/>
<line x1="380.85" y1="283.65" x2="383.65" y2="283.65" stroke="#9a9a9a" stroke-width="0.6"/>
<line x1="380.85" y1="302.46" x2="383.65" y2="302.46" stroke="#9a9a9a" stroke-width="0.6"/>
<line x1="396.5" y1="266.82" x2="396.5" y2="273.75" stroke="#9a9a9a" stroke-width="0.6"/>
<line x1="395.1" y1="266.82" x2="397.9" y2="266.82" stroke="#9a9a9a" stroke-width="0.6"/>
<line x1="395.1" y1="273.75" x2="397.9" y2="273.75" stroke="#9a9a9a" stroke-width="0.6"/>
<line x1="410.75" y1="254.45" x2="410.75" y2="263.11" stroke="#9a9a9a" stroke-width="0.6"/>
<line x1="409.35" y1="254.45" x2="412.15" y2="254.45" stroke="#9a9a9a" stroke-width="0.6"/>
<line x1="409.35" y1="263.11" x2="412.15" y2="263.11" stroke="#9a9a9a" stroke-width="0.6"/>
<line x1="425" y1="209.9" x2="425" y2="251.23" stroke="#9a9a9a" stroke-width="0.6"/>
<line x1="423.6" y1="209.9" x2="426.4" y2="209.9" stroke="#9a9a9a" stroke-width="0.6"/>
<line x1="423.6" y1="251.23" x2="426.4" y2="251.23" stroke="#9a9a9a" stroke-width="0.6"/>
<line x1="382.25" y1="305.19" x2="382.25" y2="315.09" stroke="#9a9a9a" stroke-width="0.6"/>
<line x1="380.85" y1="305.19" x2="383.65" y2="305.19" stroke="#9a9a9a" stroke-width="0.6"/>
<line x1="380.85" y1="315.09" x2="383.65" y2="315.09" stroke="#9a9a9a" stroke-width="0.6"/>
<line x1="396.5" y1="289.1" x2="396.5" y2="292.81" stroke="#9a9a9a" stroke-width="0.6"/>
<line x1="395.1" y1="289.1" x2="397.9" y2="289.1" stroke="#9a9a9a" stroke-width="0.6"/>
<line x1="395.1" y1="292.81" x2="397.9" y2="292.81" stroke="#9a9a9a" stroke-width="0.6"/>
<line x1="410.75" y1="264.85" x2="410.75" y2="294.05" stroke="#9a9a9a" stroke-width="0.6"/>
<line x1="409.35" y1="264.85" x2="412.15" y2="264.85" stroke="#9a9a9a" stroke-width="0.6"/>
<line x1="409.35" y1="294.05" x2="412.15" y2="294.05" stroke="#9a9a9a" stroke-width="0.6"/>
<line x1="425" y1="257.91" x2="425" y2="270.29" stroke="#9a9a9a" stroke-width="0.6"/>
<line x1="423.6" y1="257.91" x2="426.4" y2="257.91" stroke="#9a9a9a" stroke-width="0.6"/>
<line x1="423.6" y1="270.29" x2="426.4" y2="270.29" stroke="#9a9a9a" stroke-width="0.6"/>
<line x1="410.75" y1="280.19" x2="410.75" y2="286.62" stroke="#9a9a9a" stroke-width="0.6"/>
<line x1="409.35" y1="280.19" x2="412.15" y2="280.19" stroke="#9a9a9a" stroke-width="0.6"/>
<line x1="409.35" y1="286.62" x2="412.15" y2="286.62" stroke="#9a9a9a" stroke-width="0.6"/>
<path d="M296.75,321.27 C299.12,321.03 306.25,320.2 311,319.79 C315.75,319.38 320.5,320 325.25,318.8 C330,317.6 334.75,314.63 339.5,312.61 C344.25,310.59 349,308.65 353.75,306.67 C358.5,304.69 363.25,303.04 368,300.73 C372.75,298.42 377.5,297.8 382.25,292.81 C387,287.82 391.75,276.48 396.5,270.79 C401.25,265.09 406,265.51 410.75,258.66 C415.5,251.81 422.62,234.53 425,229.7" fill="none" stroke="#3291a1" stroke-width="1.2" stroke-linejoin="round"/>
<circle cx="296.75" cy="321.27" r="3.4" fill="url(#gT)"/>
<circle cx="311" cy="319.79" r="3.4" fill="url(#gT)"/>
<circle cx="325.25" cy="318.8" r="3.4" fill="url(#gT)"/>
<circle cx="339.5" cy="312.61" r="3.4" fill="url(#gT)"/>
<circle cx="353.75" cy="306.67" r="3.4" fill="url(#gT)"/>
<circle cx="368" cy="300.73" r="3.4" fill="url(#gT)"/>
<circle cx="382.25" cy="292.81" r="3.4" fill="url(#gT)"/>
<circle cx="396.5" cy="270.79" r="3.4" fill="url(#gT)"/>
<circle cx="410.75" cy="258.66" r="3.4" fill="url(#gT)"/>
<circle cx="425" cy="229.7" r="3.4" fill="url(#gT)"/>
<path d="M296.75,321.77 C299.12,321.77 306.25,321.73 311,321.77 C315.75,321.81 320.5,321.94 325.25,322.02 C330,322.1 334.75,322.14 339.5,322.26 C344.25,322.39 349,322.64 353.75,322.76 C358.5,322.88 363.25,323.63 368,323.01 C372.75,322.39 377.5,322.43 382.25,319.05 C387,315.67 391.75,308.65 396.5,302.71 C401.25,296.77 406,289.76 410.75,283.41 C415.5,277.06 422.62,267.73 425,264.6" fill="none" stroke="#ebbcb6" stroke-width="1.2" stroke-linejoin="round"/>
<circle cx="296.75" cy="321.77" r="3.4" fill="url(#gPL)"/>
<line x1="296.75" y1="319.97" x2="296.75" y2="323.57" stroke="#8a8a8a" stroke-width="0.55"/>
<line x1="295.75" y1="319.97" x2="297.75" y2="319.97" stroke="#8a8a8a" stroke-width="0.55"/>
<line x1="295.75" y1="323.57" x2="297.75" y2="323.57" stroke="#8a8a8a" stroke-width="0.55"/>
<circle cx="311" cy="321.77" r="3.4" fill="url(#gPL)"/>
<line x1="311" y1="319.97" x2="311" y2="323.57" stroke="#8a8a8a" stroke-width="0.55"/>
<line x1="310" y1="319.97" x2="312" y2="319.97" stroke="#8a8a8a" stroke-width="0.55"/>
<line x1="310" y1="323.57" x2="312" y2="323.57" stroke="#8a8a8a" stroke-width="0.55"/>
<circle cx="325.25" cy="322.02" r="3.4" fill="url(#gPL)"/>
<line x1="325.25" y1="320.22" x2="325.25" y2="323.82" stroke="#8a8a8a" stroke-width="0.55"/>
<line x1="324.25" y1="320.22" x2="326.25" y2="320.22" stroke="#8a8a8a" stroke-width="0.55"/>
<line x1="324.25" y1="323.82" x2="326.25" y2="323.82" stroke="#8a8a8a" stroke-width="0.55"/>
<circle cx="339.5" cy="322.26" r="3.4" fill="url(#gPL)"/>
<line x1="339.5" y1="320.46" x2="339.5" y2="324.06" stroke="#8a8a8a" stroke-width="0.55"/>
<line x1="338.5" y1="320.46" x2="340.5" y2="320.46" stroke="#8a8a8a" stroke-width="0.55"/>
<line x1="338.5" y1="324.06" x2="340.5" y2="324.06" stroke="#8a8a8a" stroke-width="0.55"/>
<circle cx="353.75" cy="322.76" r="3.4" fill="url(#gPL)"/>
<line x1="353.75" y1="320.96" x2="353.75" y2="324.56" stroke="#8a8a8a" stroke-width="0.55"/>
<line x1="352.75" y1="320.96" x2="354.75" y2="320.96" stroke="#8a8a8a" stroke-width="0.55"/>
<line x1="352.75" y1="324.56" x2="354.75" y2="324.56" stroke="#8a8a8a" stroke-width="0.55"/>
<circle cx="368" cy="323.01" r="3.4" fill="url(#gPL)"/>
<line x1="368" y1="321.21" x2="368" y2="324.81" stroke="#8a8a8a" stroke-width="0.55"/>
<line x1="367" y1="321.21" x2="369" y2="321.21" stroke="#8a8a8a" stroke-width="0.55"/>
<line x1="367" y1="324.81" x2="369" y2="324.81" stroke="#8a8a8a" stroke-width="0.55"/>
<circle cx="382.25" cy="319.05" r="3.4" fill="url(#gPL)"/>
<circle cx="396.5" cy="302.71" r="3.4" fill="url(#gPL)"/>
<circle cx="410.75" cy="283.41" r="3.4" fill="url(#gPL)"/>
<circle cx="425" cy="264.6" r="3.4" fill="url(#gPL)"/>
<path d="M296.75,321.27 C299.12,321.27 306.25,321.23 311,321.27 C315.75,321.32 320.5,321.44 325.25,321.52 C330,321.6 334.75,321.65 339.5,321.77 C344.25,321.89 349,322.26 353.75,322.26 C358.5,322.26 363.25,323.79 368,321.77 C372.75,319.75 377.5,315.25 382.25,310.14 C387,305.02 391.75,296.19 396.5,291.08 C401.25,285.96 408.38,281.39 410.75,279.45" fill="none" stroke="#cc7a72" stroke-width="1.2" stroke-linejoin="round"/>
<circle cx="296.75" cy="321.27" r="3.4" fill="url(#gPD)"/>
<line x1="296.75" y1="319.47" x2="296.75" y2="323.07" stroke="#7a7a7a" stroke-width="0.55"/>
<line x1="295.75" y1="319.47" x2="297.75" y2="319.47" stroke="#7a7a7a" stroke-width="0.55"/>
<line x1="295.75" y1="323.07" x2="297.75" y2="323.07" stroke="#7a7a7a" stroke-width="0.55"/>
<circle cx="311" cy="321.27" r="3.4" fill="url(#gPD)"/>
<line x1="311" y1="319.47" x2="311" y2="323.07" stroke="#7a7a7a" stroke-width="0.55"/>
<line x1="310" y1="319.47" x2="312" y2="319.47" stroke="#7a7a7a" stroke-width="0.55"/>
<line x1="310" y1="323.07" x2="312" y2="323.07" stroke="#7a7a7a" stroke-width="0.55"/>
<circle cx="325.25" cy="321.52" r="3.4" fill="url(#gPD)"/>
<line x1="325.25" y1="319.72" x2="325.25" y2="323.32" stroke="#7a7a7a" stroke-width="0.55"/>
<line x1="324.25" y1="319.72" x2="326.25" y2="319.72" stroke="#7a7a7a" stroke-width="0.55"/>
<line x1="324.25" y1="323.32" x2="326.25" y2="323.32" stroke="#7a7a7a" stroke-width="0.55"/>
<circle cx="339.5" cy="321.77" r="3.4" fill="url(#gPD)"/>
<line x1="339.5" y1="319.97" x2="339.5" y2="323.57" stroke="#7a7a7a" stroke-width="0.55"/>
<line x1="338.5" y1="319.97" x2="340.5" y2="319.97" stroke="#7a7a7a" stroke-width="0.55"/>
<line x1="338.5" y1="323.57" x2="340.5" y2="323.57" stroke="#7a7a7a" stroke-width="0.55"/>
<circle cx="353.75" cy="322.26" r="3.4" fill="url(#gPD)"/>
<line x1="353.75" y1="320.46" x2="353.75" y2="324.06" stroke="#7a7a7a" stroke-width="0.55"/>
<line x1="352.75" y1="320.46" x2="354.75" y2="320.46" stroke="#7a7a7a" stroke-width="0.55"/>
<line x1="352.75" y1="324.06" x2="354.75" y2="324.06" stroke="#7a7a7a" stroke-width="0.55"/>
<circle cx="368" cy="321.77" r="3.4" fill="url(#gPD)"/>
<line x1="368" y1="319.97" x2="368" y2="323.57" stroke="#7a7a7a" stroke-width="0.55"/>
<line x1="367" y1="319.97" x2="369" y2="319.97" stroke="#7a7a7a" stroke-width="0.55"/>
<line x1="367" y1="323.57" x2="369" y2="323.57" stroke="#7a7a7a" stroke-width="0.55"/>
<circle cx="382.25" cy="310.14" r="3.4" fill="url(#gPD)"/>
<circle cx="396.5" cy="291.08" r="3.4" fill="url(#gPD)"/>
<circle cx="410.75" cy="279.45" r="3.4" fill="url(#gPD)"/>
<text x="287" y="209.2" font-size="7.45" text-anchor="start" fill="#231f20" stroke="#231f20">KOH concentration, electrolyte flow rate</text>
<line x1="286" y1="217" x2="302.5" y2="217" stroke="#3291a1" stroke-width="1.3"/>
<circle cx="294.3" cy="217" r="3.4" fill="url(#gT)"/>
<text x="304.3" y="219.7" font-size="7.6" fill="#231f20">1 M, 15 mL min<tspan font-size="4.8" dy="-3">−1</tspan></text>
<line x1="286" y1="227" x2="302.5" y2="227" stroke="#ebbcb6" stroke-width="1.3"/>
<circle cx="294.3" cy="227" r="3.4" fill="url(#gPL)"/>
<text x="304.3" y="229.7" font-size="7.6" fill="#231f20">1 M, 50 mL min<tspan font-size="4.8" dy="-3">−1</tspan></text>
<line x1="286" y1="236.5" x2="302.5" y2="236.5" stroke="#cc7a72" stroke-width="1.3"/>
<circle cx="294.3" cy="236.5" r="3.4" fill="url(#gPD)"/>
<text x="304.3" y="239.2" font-size="7.6" fill="#231f20">4 M, 15 mL min<tspan font-size="4.8" dy="-3">−1</tspan></text>
<rect x="499.5" y="200" width="156.75" height="126.5" fill="none" stroke="#231f20" stroke-width="1.1"/>
<line x1="497" y1="308" x2="499.5" y2="308" stroke="#231f20" stroke-width="0.9"/>
<text x="495.7" y="311" font-size="8.6" text-anchor="end" fill="#231f20" stroke="#231f20">200</text>
<line x1="497" y1="272" x2="499.5" y2="272" stroke="#231f20" stroke-width="0.9"/>
<text x="495.7" y="275" font-size="8.6" text-anchor="end" fill="#231f20" stroke="#231f20">400</text>
<line x1="497" y1="236" x2="499.5" y2="236" stroke="#231f20" stroke-width="0.9"/>
<text x="495.7" y="239" font-size="8.6" text-anchor="end" fill="#231f20" stroke="#231f20">600</text>
<line x1="497" y1="200" x2="499.5" y2="200" stroke="#231f20" stroke-width="0.9"/>
<text x="495.7" y="203" font-size="8.6" text-anchor="end" fill="#231f20" stroke="#231f20">800</text>
<line x1="514.25" y1="326.5" x2="514.25" y2="329" stroke="#231f20" stroke-width="0.9"/>
<text x="514.25" y="337.3" font-size="8.6" text-anchor="middle" fill="#231f20" stroke="#231f20">0.5</text>
<line x1="528.45" y1="326.5" x2="528.45" y2="329" stroke="#231f20" stroke-width="0.9"/>
<text x="528.45" y="337.3" font-size="8.6" text-anchor="middle" fill="#231f20" stroke="#231f20">1</text>
<line x1="542.65" y1="326.5" x2="542.65" y2="329" stroke="#231f20" stroke-width="0.9"/>
<text x="542.65" y="337.3" font-size="8.6" text-anchor="middle" fill="#231f20" stroke="#231f20">2</text>
<line x1="556.85" y1="326.5" x2="556.85" y2="329" stroke="#231f20" stroke-width="0.9"/>
<text x="556.85" y="337.3" font-size="8.6" text-anchor="middle" fill="#231f20" stroke="#231f20">3</text>
<line x1="571.05" y1="326.5" x2="571.05" y2="329" stroke="#231f20" stroke-width="0.9"/>
<text x="571.05" y="337.3" font-size="8.6" text-anchor="middle" fill="#231f20" stroke="#231f20">4</text>
<line x1="585.25" y1="326.5" x2="585.25" y2="329" stroke="#231f20" stroke-width="0.9"/>
<text x="585.25" y="337.3" font-size="8.6" text-anchor="middle" fill="#231f20" stroke="#231f20">5</text>
<line x1="599.45" y1="326.5" x2="599.45" y2="329" stroke="#231f20" stroke-width="0.9"/>
<text x="599.45" y="337.3" font-size="8.6" text-anchor="middle" fill="#231f20" stroke="#231f20">6</text>
<line x1="613.65" y1="326.5" x2="613.65" y2="329" stroke="#231f20" stroke-width="0.9"/>
<text x="613.65" y="337.3" font-size="8.6" text-anchor="middle" fill="#231f20" stroke="#231f20">7</text>
<line x1="627.85" y1="326.5" x2="627.85" y2="329" stroke="#231f20" stroke-width="0.9"/>
<text x="627.85" y="337.3" font-size="8.6" text-anchor="middle" fill="#231f20" stroke="#231f20">8</text>
<line x1="642.05" y1="326.5" x2="642.05" y2="329" stroke="#231f20" stroke-width="0.9"/>
<text x="642.05" y="337.3" font-size="8.6" text-anchor="middle" fill="#231f20" stroke="#231f20">9</text>
<text x="578.2" y="349.6" font-size="9.8" text-anchor="middle" fill="#231f20" stroke="#231f20">j (A)</text>
<text x="460.3" y="263.5" font-size="9.4" text-anchor="middle" fill="#231f20" stroke="#231f20" transform="rotate(-90 460.3 263.5)">Electricity energy</text>
<text x="471.6" y="263.5" font-size="9.4" text-anchor="middle" fill="#231f20" transform="rotate(-90 471.6 263.5)">consumption (kJ mol<tspan font-size="6.2" dy="-3.7">−1</tspan><tspan dy="3.7">)</tspan></text>
<line x1="556.85" y1="275.96" x2="556.85" y2="286.4" stroke="#9a9a9a" stroke-width="0.6"/>
<line x1="555.45" y1="275.96" x2="558.25" y2="275.96" stroke="#9a9a9a" stroke-width="0.6"/>
<line x1="555.45" y1="286.4" x2="558.25" y2="286.4" stroke="#9a9a9a" stroke-width="0.6"/>
<line x1="528.45" y1="296.3" x2="528.45" y2="305.3" stroke="#9a9a9a" stroke-width="0.6"/>
<line x1="527.05" y1="296.3" x2="529.85" y2="296.3" stroke="#9a9a9a" stroke-width="0.6"/>
<line x1="527.05" y1="305.3" x2="529.85" y2="305.3" stroke="#9a9a9a" stroke-width="0.6"/>
<line x1="542.65" y1="291.8" x2="542.65" y2="299.9" stroke="#9a9a9a" stroke-width="0.6"/>
<line x1="541.25" y1="291.8" x2="544.05" y2="291.8" stroke="#9a9a9a" stroke-width="0.6"/>
<line x1="541.25" y1="299.9" x2="544.05" y2="299.9" stroke="#9a9a9a" stroke-width="0.6"/>
<line x1="556.85" y1="290" x2="556.85" y2="296.3" stroke="#9a9a9a" stroke-width="0.6"/>
<line x1="555.45" y1="290" x2="558.25" y2="290" stroke="#9a9a9a" stroke-width="0.6"/>
<line x1="555.45" y1="296.3" x2="558.25" y2="296.3" stroke="#9a9a9a" stroke-width="0.6"/>
<line x1="627.85" y1="260.84" x2="627.85" y2="268.76" stroke="#9a9a9a" stroke-width="0.6"/>
<line x1="626.45" y1="260.84" x2="629.25" y2="260.84" stroke="#9a9a9a" stroke-width="0.6"/>
<line x1="626.45" y1="268.76" x2="629.25" y2="268.76" stroke="#9a9a9a" stroke-width="0.6"/>
<line x1="642.05" y1="250.4" x2="642.05" y2="255.8" stroke="#9a9a9a" stroke-width="0.6"/>
<line x1="640.65" y1="250.4" x2="643.45" y2="250.4" stroke="#9a9a9a" stroke-width="0.6"/>
<line x1="640.65" y1="255.8" x2="643.45" y2="255.8" stroke="#9a9a9a" stroke-width="0.6"/>
<line x1="613.65" y1="267.5" x2="613.65" y2="272.9" stroke="#9a9a9a" stroke-width="0.6"/>
<line x1="612.25" y1="267.5" x2="615.05" y2="267.5" stroke="#9a9a9a" stroke-width="0.6"/>
<line x1="612.25" y1="272.9" x2="615.05" y2="272.9" stroke="#9a9a9a" stroke-width="0.6"/>
<line x1="613.65" y1="281" x2="613.65" y2="288.2" stroke="#9a9a9a" stroke-width="0.6"/>
<line x1="612.25" y1="281" x2="615.05" y2="281" stroke="#9a9a9a" stroke-width="0.6"/>
<line x1="612.25" y1="288.2" x2="615.05" y2="288.2" stroke="#9a9a9a" stroke-width="0.6"/>
<line x1="627.85" y1="271.28" x2="627.85" y2="281.36" stroke="#9a9a9a" stroke-width="0.6"/>
<line x1="626.45" y1="271.28" x2="629.25" y2="271.28" stroke="#9a9a9a" stroke-width="0.6"/>
<line x1="626.45" y1="281.36" x2="629.25" y2="281.36" stroke="#9a9a9a" stroke-width="0.6"/>
<path d="M514.25,304.04 C516.62,303.56 523.72,302.54 528.45,301.16 C533.18,299.78 537.92,297.11 542.65,295.76 C547.38,294.41 552.12,294.23 556.85,293.06 C561.58,291.89 566.32,289.97 571.05,288.74 C575.78,287.51 580.52,287.06 585.25,285.68 C589.98,284.3 594.72,283.1 599.45,280.46 C604.18,277.82 608.92,272.45 613.65,269.84 C618.38,267.23 623.12,267.59 627.85,264.8 C632.58,262.01 639.68,255.05 642.05,253.1" fill="none" stroke="#ebbcb6" stroke-width="1.15" stroke-linejoin="round"/>
<path d="M514.25,305.84 C516.62,305.78 523.72,306.11 528.45,305.48 C533.18,304.85 537.92,302.84 542.65,302.06 C547.38,301.28 552.12,301.73 556.85,300.8 C561.58,299.87 566.32,297.56 571.05,296.48 C575.78,295.4 580.52,295.52 585.25,294.32 C589.98,293.12 594.72,290.93 599.45,289.28 C604.18,287.63 608.92,286.58 613.65,284.42 C618.38,282.26 625.48,277.67 627.85,276.32" fill="none" stroke="#cc7a72" stroke-width="1.15" stroke-linejoin="round"/>
<path d="M514.25,301.7 C516.62,300.89 523.72,298.52 528.45,296.84 C533.18,295.16 537.92,294.11 542.65,291.62 C547.38,289.13 552.12,284.87 556.85,281.9 C561.58,278.93 566.32,276.83 571.05,273.8 C575.78,270.77 580.52,266.75 585.25,263.72 C589.98,260.69 594.72,259.7 599.45,255.62 C604.18,251.54 608.92,243.05 613.65,239.24 C618.38,235.43 623.12,236.99 627.85,232.76 C632.58,228.53 639.68,217.01 642.05,213.86" fill="none" stroke="#3291a1" stroke-width="1.15" stroke-linejoin="round"/>
<circle cx="514.25" cy="304.04" r="3.3" fill="url(#gPL)"/>
<line x1="514.25" y1="301.84" x2="514.25" y2="306.24" stroke="#8a8a8a" stroke-width="0.55"/>
<line x1="513.05" y1="301.84" x2="515.45" y2="301.84" stroke="#8a8a8a" stroke-width="0.55"/>
<line x1="513.05" y1="306.24" x2="515.45" y2="306.24" stroke="#8a8a8a" stroke-width="0.55"/>
<circle cx="528.45" cy="301.16" r="3.3" fill="url(#gPL)"/>
<line x1="528.45" y1="298.96" x2="528.45" y2="303.36" stroke="#8a8a8a" stroke-width="0.55"/>
<line x1="527.25" y1="298.96" x2="529.65" y2="298.96" stroke="#8a8a8a" stroke-width="0.55"/>
<line x1="527.25" y1="303.36" x2="529.65" y2="303.36" stroke="#8a8a8a" stroke-width="0.55"/>
<circle cx="542.65" cy="295.76" r="3.3" fill="url(#gPL)"/>
<line x1="542.65" y1="293.56" x2="542.65" y2="297.96" stroke="#8a8a8a" stroke-width="0.55"/>
<line x1="541.45" y1="293.56" x2="543.85" y2="293.56" stroke="#8a8a8a" stroke-width="0.55"/>
<line x1="541.45" y1="297.96" x2="543.85" y2="297.96" stroke="#8a8a8a" stroke-width="0.55"/>
<circle cx="556.85" cy="293.06" r="3.3" fill="url(#gPL)"/>
<line x1="556.85" y1="290.86" x2="556.85" y2="295.26" stroke="#8a8a8a" stroke-width="0.55"/>
<line x1="555.65" y1="290.86" x2="558.05" y2="290.86" stroke="#8a8a8a" stroke-width="0.55"/>
<line x1="555.65" y1="295.26" x2="558.05" y2="295.26" stroke="#8a8a8a" stroke-width="0.55"/>
<circle cx="571.05" cy="288.74" r="3.3" fill="url(#gPL)"/>
<line x1="571.05" y1="286.54" x2="571.05" y2="290.94" stroke="#8a8a8a" stroke-width="0.55"/>
<line x1="569.85" y1="286.54" x2="572.25" y2="286.54" stroke="#8a8a8a" stroke-width="0.55"/>
<line x1="569.85" y1="290.94" x2="572.25" y2="290.94" stroke="#8a8a8a" stroke-width="0.55"/>
<circle cx="585.25" cy="285.68" r="3.3" fill="url(#gPL)"/>
<line x1="585.25" y1="283.48" x2="585.25" y2="287.88" stroke="#8a8a8a" stroke-width="0.55"/>
<line x1="584.05" y1="283.48" x2="586.45" y2="283.48" stroke="#8a8a8a" stroke-width="0.55"/>
<line x1="584.05" y1="287.88" x2="586.45" y2="287.88" stroke="#8a8a8a" stroke-width="0.55"/>
<circle cx="599.45" cy="280.46" r="3.3" fill="url(#gPL)"/>
<line x1="599.45" y1="278.26" x2="599.45" y2="282.66" stroke="#8a8a8a" stroke-width="0.55"/>
<line x1="598.25" y1="278.26" x2="600.65" y2="278.26" stroke="#8a8a8a" stroke-width="0.55"/>
<line x1="598.25" y1="282.66" x2="600.65" y2="282.66" stroke="#8a8a8a" stroke-width="0.55"/>
<circle cx="613.65" cy="269.84" r="3.3" fill="url(#gPL)"/>
<line x1="613.65" y1="267.64" x2="613.65" y2="272.04" stroke="#8a8a8a" stroke-width="0.55"/>
<line x1="612.45" y1="267.64" x2="614.85" y2="267.64" stroke="#8a8a8a" stroke-width="0.55"/>
<line x1="612.45" y1="272.04" x2="614.85" y2="272.04" stroke="#8a8a8a" stroke-width="0.55"/>
<circle cx="627.85" cy="264.8" r="3.3" fill="url(#gPL)"/>
<line x1="627.85" y1="262.6" x2="627.85" y2="267" stroke="#8a8a8a" stroke-width="0.55"/>
<line x1="626.65" y1="262.6" x2="629.05" y2="262.6" stroke="#8a8a8a" stroke-width="0.55"/>
<line x1="626.65" y1="267" x2="629.05" y2="267" stroke="#8a8a8a" stroke-width="0.55"/>
<circle cx="642.05" cy="253.1" r="3.3" fill="url(#gPL)"/>
<line x1="642.05" y1="250.9" x2="642.05" y2="255.3" stroke="#8a8a8a" stroke-width="0.55"/>
<line x1="640.85" y1="250.9" x2="643.25" y2="250.9" stroke="#8a8a8a" stroke-width="0.55"/>
<line x1="640.85" y1="255.3" x2="643.25" y2="255.3" stroke="#8a8a8a" stroke-width="0.55"/>
<circle cx="514.25" cy="305.84" r="3.3" fill="url(#gPD)"/>
<line x1="514.25" y1="303.64" x2="514.25" y2="308.04" stroke="#8a8a8a" stroke-width="0.55"/>
<line x1="513.05" y1="303.64" x2="515.45" y2="303.64" stroke="#8a8a8a" stroke-width="0.55"/>
<line x1="513.05" y1="308.04" x2="515.45" y2="308.04" stroke="#8a8a8a" stroke-width="0.55"/>
<circle cx="528.45" cy="305.48" r="3.3" fill="url(#gPD)"/>
<line x1="528.45" y1="303.28" x2="528.45" y2="307.68" stroke="#8a8a8a" stroke-width="0.55"/>
<line x1="527.25" y1="303.28" x2="529.65" y2="303.28" stroke="#8a8a8a" stroke-width="0.55"/>
<line x1="527.25" y1="307.68" x2="529.65" y2="307.68" stroke="#8a8a8a" stroke-width="0.55"/>
<circle cx="542.65" cy="302.06" r="3.3" fill="url(#gPD)"/>
<line x1="542.65" y1="299.86" x2="542.65" y2="304.26" stroke="#8a8a8a" stroke-width="0.55"/>
<line x1="541.45" y1="299.86" x2="543.85" y2="299.86" stroke="#8a8a8a" stroke-width="0.55"/>
<line x1="541.45" y1="304.26" x2="543.85" y2="304.26" stroke="#8a8a8a" stroke-width="0.55"/>
<circle cx="556.85" cy="300.8" r="3.3" fill="url(#gPD)"/>
<line x1="556.85" y1="298.6" x2="556.85" y2="303" stroke="#8a8a8a" stroke-width="0.55"/>
<line x1="555.65" y1="298.6" x2="558.05" y2="298.6" stroke="#8a8a8a" stroke-width="0.55"/>
<line x1="555.65" y1="303" x2="558.05" y2="303" stroke="#8a8a8a" stroke-width="0.55"/>
<circle cx="571.05" cy="296.48" r="3.3" fill="url(#gPD)"/>
<line x1="571.05" y1="294.28" x2="571.05" y2="298.68" stroke="#8a8a8a" stroke-width="0.55"/>
<line x1="569.85" y1="294.28" x2="572.25" y2="294.28" stroke="#8a8a8a" stroke-width="0.55"/>
<line x1="569.85" y1="298.68" x2="572.25" y2="298.68" stroke="#8a8a8a" stroke-width="0.55"/>
<circle cx="585.25" cy="294.32" r="3.3" fill="url(#gPD)"/>
<line x1="585.25" y1="292.12" x2="585.25" y2="296.52" stroke="#8a8a8a" stroke-width="0.55"/>
<line x1="584.05" y1="292.12" x2="586.45" y2="292.12" stroke="#8a8a8a" stroke-width="0.55"/>
<line x1="584.05" y1="296.52" x2="586.45" y2="296.52" stroke="#8a8a8a" stroke-width="0.55"/>
<circle cx="599.45" cy="289.28" r="3.3" fill="url(#gPD)"/>
<line x1="599.45" y1="287.08" x2="599.45" y2="291.48" stroke="#8a8a8a" stroke-width="0.55"/>
<line x1="598.25" y1="287.08" x2="600.65" y2="287.08" stroke="#8a8a8a" stroke-width="0.55"/>
<line x1="598.25" y1="291.48" x2="600.65" y2="291.48" stroke="#8a8a8a" stroke-width="0.55"/>
<circle cx="613.65" cy="284.42" r="3.3" fill="url(#gPD)"/>
<line x1="613.65" y1="282.22" x2="613.65" y2="286.62" stroke="#8a8a8a" stroke-width="0.55"/>
<line x1="612.45" y1="282.22" x2="614.85" y2="282.22" stroke="#8a8a8a" stroke-width="0.55"/>
<line x1="612.45" y1="286.62" x2="614.85" y2="286.62" stroke="#8a8a8a" stroke-width="0.55"/>
<circle cx="627.85" cy="276.32" r="3.3" fill="url(#gPD)"/>
<line x1="627.85" y1="274.12" x2="627.85" y2="278.52" stroke="#8a8a8a" stroke-width="0.55"/>
<line x1="626.65" y1="274.12" x2="629.05" y2="274.12" stroke="#8a8a8a" stroke-width="0.55"/>
<line x1="626.65" y1="278.52" x2="629.05" y2="278.52" stroke="#8a8a8a" stroke-width="0.55"/>
<circle cx="514.25" cy="301.7" r="3.3" fill="url(#gT)"/>
<line x1="514.25" y1="299.5" x2="514.25" y2="303.9" stroke="#8a8a8a" stroke-width="0.55"/>
<line x1="513.05" y1="299.5" x2="515.45" y2="299.5" stroke="#8a8a8a" stroke-width="0.55"/>
<line x1="513.05" y1="303.9" x2="515.45" y2="303.9" stroke="#8a8a8a" stroke-width="0.55"/>
<circle cx="528.45" cy="296.84" r="3.3" fill="url(#gT)"/>
<line x1="528.45" y1="294.64" x2="528.45" y2="299.04" stroke="#8a8a8a" stroke-width="0.55"/>
<line x1="527.25" y1="294.64" x2="529.65" y2="294.64" stroke="#8a8a8a" stroke-width="0.55"/>
<line x1="527.25" y1="299.04" x2="529.65" y2="299.04" stroke="#8a8a8a" stroke-width="0.55"/>
<circle cx="542.65" cy="291.62" r="3.3" fill="url(#gT)"/>
<line x1="542.65" y1="289.42" x2="542.65" y2="293.82" stroke="#8a8a8a" stroke-width="0.55"/>
<line x1="541.45" y1="289.42" x2="543.85" y2="289.42" stroke="#8a8a8a" stroke-width="0.55"/>
<line x1="541.45" y1="293.82" x2="543.85" y2="293.82" stroke="#8a8a8a" stroke-width="0.55"/>
<circle cx="556.85" cy="281.9" r="3.3" fill="url(#gT)"/>
<line x1="556.85" y1="279.7" x2="556.85" y2="284.1" stroke="#8a8a8a" stroke-width="0.55"/>
<line x1="555.65" y1="279.7" x2="558.05" y2="279.7" stroke="#8a8a8a" stroke-width="0.55"/>
<line x1="555.65" y1="284.1" x2="558.05" y2="284.1" stroke="#8a8a8a" stroke-width="0.55"/>
<circle cx="571.05" cy="273.8" r="3.3" fill="url(#gT)"/>
<line x1="571.05" y1="271.6" x2="571.05" y2="276" stroke="#8a8a8a" stroke-width="0.55"/>
<line x1="569.85" y1="271.6" x2="572.25" y2="271.6" stroke="#8a8a8a" stroke-width="0.55"/>
<line x1="569.85" y1="276" x2="572.25" y2="276" stroke="#8a8a8a" stroke-width="0.55"/>
<circle cx="585.25" cy="263.72" r="3.3" fill="url(#gT)"/>
<line x1="585.25" y1="261.52" x2="585.25" y2="265.92" stroke="#8a8a8a" stroke-width="0.55"/>
<line x1="584.05" y1="261.52" x2="586.45" y2="261.52" stroke="#8a8a8a" stroke-width="0.55"/>
<line x1="584.05" y1="265.92" x2="586.45" y2="265.92" stroke="#8a8a8a" stroke-width="0.55"/>
<circle cx="599.45" cy="255.62" r="3.3" fill="url(#gT)"/>
<line x1="599.45" y1="253.42" x2="599.45" y2="257.82" stroke="#8a8a8a" stroke-width="0.55"/>
<line x1="598.25" y1="253.42" x2="600.65" y2="253.42" stroke="#8a8a8a" stroke-width="0.55"/>
<line x1="598.25" y1="257.82" x2="600.65" y2="257.82" stroke="#8a8a8a" stroke-width="0.55"/>
<circle cx="613.65" cy="239.24" r="3.3" fill="url(#gT)"/>
<line x1="613.65" y1="237.04" x2="613.65" y2="241.44" stroke="#8a8a8a" stroke-width="0.55"/>
<line x1="612.45" y1="237.04" x2="614.85" y2="237.04" stroke="#8a8a8a" stroke-width="0.55"/>
<line x1="612.45" y1="241.44" x2="614.85" y2="241.44" stroke="#8a8a8a" stroke-width="0.55"/>
<circle cx="627.85" cy="232.76" r="3.3" fill="url(#gT)"/>
<line x1="627.85" y1="230.56" x2="627.85" y2="234.96" stroke="#8a8a8a" stroke-width="0.55"/>
<line x1="626.65" y1="230.56" x2="629.05" y2="230.56" stroke="#8a8a8a" stroke-width="0.55"/>
<line x1="626.65" y1="234.96" x2="629.05" y2="234.96" stroke="#8a8a8a" stroke-width="0.55"/>
<circle cx="642.05" cy="213.86" r="3.3" fill="url(#gT)"/>
<line x1="642.05" y1="211.66" x2="642.05" y2="216.06" stroke="#8a8a8a" stroke-width="0.55"/>
<line x1="640.85" y1="211.66" x2="643.25" y2="211.66" stroke="#8a8a8a" stroke-width="0.55"/>
<line x1="640.85" y1="216.06" x2="643.25" y2="216.06" stroke="#8a8a8a" stroke-width="0.55"/>
</svg>
</body></html>
